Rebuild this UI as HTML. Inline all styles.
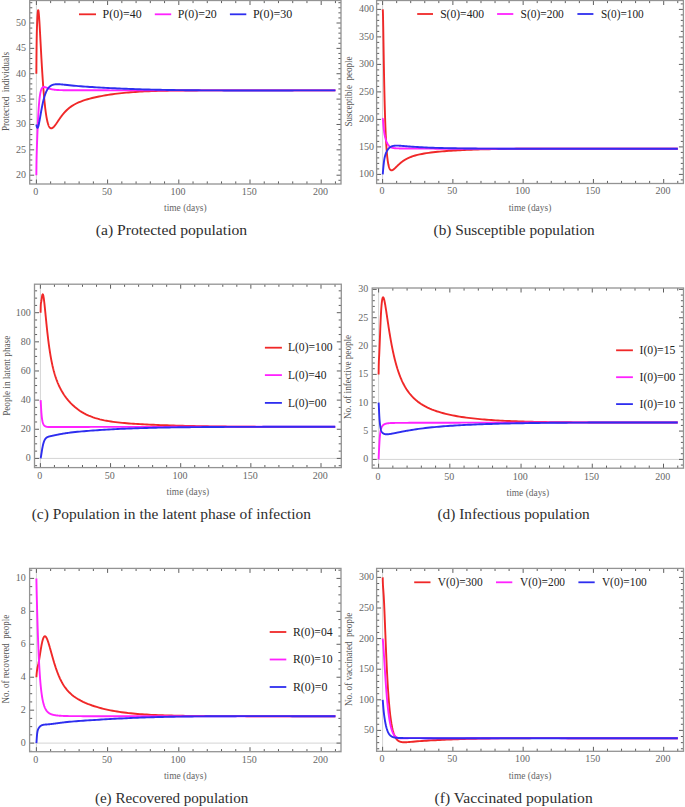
<!DOCTYPE html>
<html><head><meta charset="utf-8"><style>
html,body{margin:0;padding:0;background:#fff;}
svg{display:block;}
text{font-family:"Liberation Serif",serif;}
.tl{font-size:10px;fill:#666;}
.xl{font-size:10px;fill:#666;}
.yl{font-size:10.2px;fill:#555;}
.lg{font-size:12.6px;fill:#222;}
.cap{font-size:14.5px;fill:#2e2e2e;}
</style></head><body>
<svg width="685" height="807" viewBox="0 0 685 807">
<rect width="685" height="807" fill="#fff"/>
<clipPath id="ca"><rect x="29.7" y="0.5" width="311.3" height="183.5"/></clipPath>
<line x1="36.4" y1="0.5" x2="36.4" y2="184" stroke="#d4d4d4" stroke-width="1"/>
<path d="M36.4 184v-4.5 M36.4 0.5v4.5 M50.64 184v-2.6 M50.64 0.5v2.6 M64.88 184v-2.6 M64.88 0.5v2.6 M79.12 184v-2.6 M79.12 0.5v2.6 M93.36 184v-2.6 M93.36 0.5v2.6 M107.6 184v-4.5 M107.6 0.5v4.5 M121.84 184v-2.6 M121.84 0.5v2.6 M136.08 184v-2.6 M136.08 0.5v2.6 M150.32 184v-2.6 M150.32 0.5v2.6 M164.56 184v-2.6 M164.56 0.5v2.6 M178.8 184v-4.5 M178.8 0.5v4.5 M193.04 184v-2.6 M193.04 0.5v2.6 M207.28 184v-2.6 M207.28 0.5v2.6 M221.52 184v-2.6 M221.52 0.5v2.6 M235.76 184v-2.6 M235.76 0.5v2.6 M250 184v-4.5 M250 0.5v4.5 M264.24 184v-2.6 M264.24 0.5v2.6 M278.48 184v-2.6 M278.48 0.5v2.6 M292.72 184v-2.6 M292.72 0.5v2.6 M306.96 184v-2.6 M306.96 0.5v2.6 M321.2 184v-4.5 M321.2 0.5v4.5 M335.44 184v-2.6 M335.44 0.5v2.6 M29.7 180.27h2.6 M341 180.27h-2.6 M29.7 175.2h4.5 M341 175.2h-4.5 M29.7 170.13h2.6 M341 170.13h-2.6 M29.7 165.05h2.6 M341 165.05h-2.6 M29.7 159.98h2.6 M341 159.98h-2.6 M29.7 154.91h2.6 M341 154.91h-2.6 M29.7 149.83h4.5 M341 149.83h-4.5 M29.7 144.76h2.6 M341 144.76h-2.6 M29.7 139.69h2.6 M341 139.69h-2.6 M29.7 134.61h2.6 M341 134.61h-2.6 M29.7 129.54h2.6 M341 129.54h-2.6 M29.7 124.47h4.5 M341 124.47h-4.5 M29.7 119.39h2.6 M341 119.39h-2.6 M29.7 114.32h2.6 M341 114.32h-2.6 M29.7 109.25h2.6 M341 109.25h-2.6 M29.7 104.17h2.6 M341 104.17h-2.6 M29.7 99.1h4.5 M341 99.1h-4.5 M29.7 94.03h2.6 M341 94.03h-2.6 M29.7 88.95h2.6 M341 88.95h-2.6 M29.7 83.88h2.6 M341 83.88h-2.6 M29.7 78.81h2.6 M341 78.81h-2.6 M29.7 73.73h4.5 M341 73.73h-4.5 M29.7 68.66h2.6 M341 68.66h-2.6 M29.7 63.59h2.6 M341 63.59h-2.6 M29.7 58.51h2.6 M341 58.51h-2.6 M29.7 53.44h2.6 M341 53.44h-2.6 M29.7 48.37h4.5 M341 48.37h-4.5 M29.7 43.29h2.6 M341 43.29h-2.6 M29.7 38.22h2.6 M341 38.22h-2.6 M29.7 33.15h2.6 M341 33.15h-2.6 M29.7 28.07h2.6 M341 28.07h-2.6 M29.7 23h4.5 M341 23h-4.5 M29.7 17.93h2.6 M341 17.93h-2.6 M29.7 12.85h2.6 M341 12.85h-2.6 M29.7 7.78h2.6 M341 7.78h-2.6 M29.7 2.71h2.6 M341 2.71h-2.6" stroke="#5e5e5e" stroke-width="1" fill="none"/>
<g clip-path="url(#ca)" fill="none" stroke-width="1.9" stroke-linejoin="round" stroke-linecap="butt">
<path d="M36.35 73.70 L36.47 58.34 L36.59 46.66 L36.71 38.37 L36.83 32.48 L36.95 28.09 L37.07 24.60 L37.19 21.67 L37.30 19.13 L37.42 16.90 L37.54 14.97 L37.66 13.35 L37.78 12.05 L37.90 11.08 L38.02 10.44 L38.14 10.12 L38.26 10.12 L38.38 10.41 L38.50 10.97 L38.62 11.78 L38.74 12.81 L38.86 14.05 L38.98 15.46 L39.10 17.02 L39.21 18.72 L39.33 20.53 L39.45 22.43 L39.57 24.42 L39.69 26.48 L39.81 28.59 L39.93 30.74 L40.05 32.92 L40.17 35.13 L40.29 37.36 L40.41 39.59 L40.53 41.83 L40.65 44.06 L40.77 46.29 L40.89 48.51 L41.01 50.71 L41.12 52.89 L41.24 55.05 L41.36 57.19 L41.48 59.30 L41.60 61.39 L41.72 63.45 L41.84 65.47 L41.96 67.47 L42.08 69.43 L42.20 71.36 L42.32 73.25 L42.44 75.11 L42.56 76.93 L42.68 78.72 L42.80 80.47 L42.92 82.18 L43.03 83.86 L43.15 85.50 L43.27 87.10 L43.39 88.67 L43.51 90.19 L43.63 91.68 L43.75 93.14 L43.87 94.55 L43.99 95.93 L44.11 97.28 L44.23 98.58 L44.35 99.85 L44.47 101.09 L44.59 102.29 L44.71 103.45 L44.83 104.59 L44.94 105.68 L45.06 106.75 L45.18 107.78 L45.30 108.77 L45.42 109.74 L45.54 110.67 L45.66 111.57 L45.78 112.45 L45.90 113.29 L46.02 114.10 L46.14 114.88 L46.26 115.63 L46.38 116.36 L46.50 117.06 L46.62 117.73 L46.74 118.37 L46.85 118.99 L46.97 119.59 L47.09 120.16 L47.21 120.70 L47.33 121.22 L47.45 121.72 L47.57 122.19 L47.69 122.65 L47.81 123.08 L47.93 123.49 L48.05 123.88 L48.17 124.24 L48.29 124.59 L48.41 124.93 L48.53 125.24 L48.65 125.53 L48.76 125.81 L48.88 126.07 L49.00 126.31 L49.12 126.54 L49.24 126.75 L49.36 126.94 L49.48 127.12 L49.60 127.29 L49.72 127.44 L49.84 127.58 L49.96 127.71 L50.08 127.82 L50.20 127.92 L50.32 128.01 L50.44 128.09 L50.56 128.15 L50.67 128.21 L50.79 128.25 L50.91 128.28 L51.03 128.31 L51.15 128.32 L51.27 128.33 L51.39 128.33 L51.51 128.31 L51.63 128.29 L51.75 128.27 L51.87 128.23 L51.99 128.19 L52.11 128.14 L52.23 128.08 L52.35 128.02 L52.47 127.95 L52.58 127.87 L52.70 127.79 L52.82 127.70 L52.94 127.61 L53.06 127.51 L53.18 127.41 L53.30 127.31 L53.42 127.19 L53.54 127.08 L53.66 126.96 L53.78 126.83 L53.90 126.71 L54.02 126.58 L54.14 126.44 L54.26 126.30 L54.38 126.16 L54.49 126.02 L54.61 125.87 L54.73 125.72 L54.85 125.57 L54.97 125.42 L55.09 125.26 L55.21 125.10 L55.33 124.94 L55.45 124.78 L55.57 124.62 L55.69 124.45 L55.81 124.29 L55.93 124.12 L56.05 123.95 L56.17 123.78 L56.29 123.61 L56.40 123.44 L56.52 123.27 L56.64 123.09 L56.76 122.92 L56.88 122.74 L57.00 122.57 L57.12 122.39 L57.24 122.21 L57.36 122.04 L57.48 121.86 L57.60 121.68 L57.72 121.51 L57.84 121.33 L57.96 121.15 L58.08 120.98 L58.20 120.80 L58.31 120.62 L58.43 120.45 L58.55 120.27 L58.67 120.09 L58.79 119.92 L58.91 119.74 L59.03 119.57 L59.15 119.39 L59.27 119.22 L59.39 119.05 L59.51 118.88 L59.63 118.70 L59.75 118.53 L59.87 118.36 L59.99 118.19 L60.11 118.02 L60.22 117.85 L60.34 117.69 L60.46 117.52 L60.58 117.35 L60.70 117.19 L60.82 117.02 L60.94 116.86 L61.06 116.70 L61.18 116.54 L61.30 116.37 L61.42 116.21 L61.54 116.06 L61.66 115.90 L61.78 115.74 L61.90 115.58 L62.02 115.43 L62.13 115.28 L62.25 115.12 L62.37 114.97 L62.49 114.82 L62.61 114.67 L62.73 114.52 L62.85 114.37 L62.97 114.23 L63.09 114.08 L63.21 113.94 L63.33 113.79 L63.45 113.65 L63.57 113.51 L63.69 113.37 L63.81 113.23 L63.93 113.09 L64.04 112.95 L64.16 112.82 L64.28 112.68 L64.40 112.55 L64.52 112.41 L64.64 112.28 L64.76 112.15 L64.88 112.02 L67.15 109.74 L69.43 107.79 L71.70 106.14 L73.97 104.73 L76.25 103.51 L78.52 102.45 L80.79 101.52 L83.07 100.68 L85.34 99.93 L87.61 99.24 L89.89 98.61 L92.16 98.03 L94.43 97.49 L96.71 96.98 L98.98 96.50 L101.25 96.06 L103.53 95.64 L105.80 95.24 L108.07 94.87 L110.35 94.53 L112.62 94.20 L114.89 93.90 L117.17 93.61 L119.44 93.35 L121.71 93.10 L123.99 92.87 L126.26 92.65 L128.53 92.45 L130.81 92.27 L133.08 92.09 L135.35 91.94 L137.62 91.79 L139.90 91.66 L142.17 91.53 L144.44 91.42 L146.72 91.31 L148.99 91.22 L151.26 91.13 L153.54 91.05 L155.81 90.98 L158.08 90.91 L160.36 90.85 L162.63 90.80 L164.90 90.75 L167.18 90.71 L169.45 90.67 L171.72 90.63 L174.00 90.60 L176.27 90.57 L178.54 90.55 L180.82 90.53 L183.09 90.51 L185.36 90.49 L187.64 90.47 L189.91 90.46 L192.18 90.45 L194.46 90.44 L196.73 90.43 L199.00 90.42 L201.28 90.42 L203.55 90.41 L205.82 90.41 L208.10 90.41 L210.37 90.40 L212.64 90.40 L214.92 90.40 L217.19 90.40 L219.46 90.40 L221.74 90.40 L224.01 90.40 L226.28 90.40 L228.56 90.40 L230.83 90.40 L233.10 90.40 L235.38 90.40 L237.65 90.40 L239.92 90.41 L242.20 90.41 L244.47 90.41 L246.74 90.41 L249.02 90.41 L251.29 90.41 L253.56 90.41 L255.84 90.41 L258.11 90.41 L260.38 90.41 L262.66 90.41 L264.93 90.42 L267.20 90.42 L269.47 90.42 L271.75 90.42 L274.02 90.42 L276.29 90.42 L278.57 90.42 L280.84 90.42 L283.11 90.42 L285.39 90.42 L287.66 90.42 L289.93 90.42 L292.21 90.41 L294.48 90.41 L296.75 90.41 L299.03 90.41 L301.30 90.41 L303.57 90.41 L305.85 90.41 L308.12 90.41 L310.39 90.41 L312.67 90.41 L314.94 90.40 L317.21 90.40 L319.49 90.40 L321.76 90.40 L324.03 90.40 L326.31 90.40 L328.58 90.40 L330.85 90.39 L333.13 90.39 L335.40 90.39" stroke="#f02828"/>
<path d="M36.35 175.20 L36.47 165.02 L36.59 158.35 L36.71 153.46 L36.83 149.46 L36.95 145.91 L37.07 142.59 L37.19 139.41 L37.30 136.32 L37.42 133.31 L37.54 130.40 L37.66 127.59 L37.78 124.89 L37.90 122.30 L38.02 119.83 L38.14 117.49 L38.26 115.27 L38.38 113.17 L38.50 111.20 L38.62 109.34 L38.74 107.60 L38.86 105.98 L38.98 104.45 L39.10 103.04 L39.21 101.71 L39.33 100.48 L39.45 99.34 L39.57 98.28 L39.69 97.29 L39.81 96.38 L39.93 95.53 L40.05 94.75 L40.17 94.03 L40.29 93.36 L40.41 92.75 L40.53 92.18 L40.65 91.66 L40.77 91.18 L40.89 90.74 L41.01 90.34 L41.12 89.97 L41.24 89.64 L41.36 89.33 L41.48 89.05 L41.60 88.80 L41.72 88.57 L41.84 88.36 L41.96 88.18 L42.08 88.01 L42.20 87.86 L42.32 87.72 L42.44 87.61 L42.56 87.50 L42.68 87.41 L42.80 87.33 L42.92 87.26 L43.03 87.20 L43.15 87.15 L43.27 87.11 L43.39 87.08 L43.51 87.06 L43.63 87.04 L43.75 87.03 L43.87 87.02 L43.99 87.02 L44.11 87.03 L44.23 87.04 L44.35 87.05 L44.47 87.07 L44.59 87.09 L44.71 87.11 L44.83 87.14 L44.94 87.16 L45.06 87.19 L45.18 87.23 L45.30 87.26 L45.42 87.30 L45.54 87.34 L45.66 87.37 L45.78 87.41 L45.90 87.46 L46.02 87.50 L46.14 87.54 L46.26 87.58 L46.38 87.63 L46.50 87.67 L46.62 87.71 L46.74 87.76 L46.85 87.80 L46.97 87.85 L47.09 87.89 L47.21 87.93 L47.33 87.98 L47.45 88.02 L47.57 88.06 L47.69 88.11 L47.81 88.15 L47.93 88.19 L48.05 88.24 L48.17 88.28 L48.29 88.32 L48.41 88.36 L48.53 88.40 L48.65 88.44 L48.76 88.48 L48.88 88.52 L49.00 88.56 L49.12 88.59 L49.24 88.63 L49.36 88.67 L49.48 88.70 L49.60 88.74 L49.72 88.77 L49.84 88.81 L49.96 88.84 L50.08 88.87 L50.20 88.91 L50.32 88.94 L50.44 88.97 L50.56 89.00 L50.67 89.03 L50.79 89.06 L50.91 89.09 L51.03 89.12 L51.15 89.15 L51.27 89.17 L51.39 89.20 L51.51 89.23 L51.63 89.25 L51.75 89.28 L51.87 89.30 L51.99 89.33 L52.11 89.35 L52.23 89.37 L52.35 89.39 L52.47 89.42 L52.58 89.44 L52.70 89.46 L52.82 89.48 L52.94 89.50 L53.06 89.52 L53.18 89.54 L53.30 89.56 L53.42 89.58 L53.54 89.59 L53.66 89.61 L53.78 89.63 L53.90 89.64 L54.02 89.66 L54.14 89.68 L54.26 89.69 L54.38 89.71 L54.49 89.72 L54.61 89.74 L54.73 89.75 L54.85 89.76 L54.97 89.78 L55.09 89.79 L55.21 89.80 L55.33 89.82 L55.45 89.83 L55.57 89.84 L55.69 89.85 L55.81 89.86 L55.93 89.87 L56.05 89.88 L56.17 89.89 L56.29 89.90 L56.40 89.91 L56.52 89.92 L56.64 89.93 L56.76 89.94 L56.88 89.95 L57.00 89.96 L57.12 89.97 L57.24 89.98 L57.36 89.98 L57.48 89.99 L57.60 90.00 L57.72 90.01 L57.84 90.01 L57.96 90.02 L58.08 90.03 L58.20 90.03 L58.31 90.04 L58.43 90.04 L58.55 90.05 L58.67 90.06 L58.79 90.06 L58.91 90.07 L59.03 90.07 L59.15 90.08 L59.27 90.08 L59.39 90.09 L59.51 90.09 L59.63 90.10 L59.75 90.10 L59.87 90.11 L59.99 90.11 L60.11 90.11 L60.22 90.12 L60.34 90.12 L60.46 90.13 L60.58 90.13 L60.70 90.13 L60.82 90.14 L60.94 90.14 L61.06 90.14 L61.18 90.15 L61.30 90.15 L61.42 90.15 L61.54 90.15 L61.66 90.16 L61.78 90.16 L61.90 90.16 L62.02 90.16 L62.13 90.17 L62.25 90.17 L62.37 90.17 L62.49 90.17 L62.61 90.17 L62.73 90.18 L62.85 90.18 L62.97 90.18 L63.09 90.18 L63.21 90.18 L63.33 90.19 L63.45 90.19 L63.57 90.19 L63.69 90.19 L63.81 90.19 L63.93 90.19 L64.04 90.19 L64.16 90.19 L64.28 90.20 L64.40 90.20 L64.52 90.20 L64.64 90.20 L64.76 90.20 L64.88 90.20 L67.15 90.21 L69.43 90.22 L71.70 90.22 L73.97 90.22 L76.25 90.22 L78.52 90.22 L80.79 90.22 L83.07 90.23 L85.34 90.23 L87.61 90.24 L89.89 90.24 L92.16 90.25 L94.43 90.26 L96.71 90.27 L98.98 90.28 L101.25 90.29 L103.53 90.30 L105.80 90.31 L108.07 90.32 L110.35 90.33 L112.62 90.33 L114.89 90.34 L117.17 90.35 L119.44 90.35 L121.71 90.36 L123.99 90.37 L126.26 90.37 L128.53 90.38 L130.81 90.38 L133.08 90.38 L135.35 90.39 L137.62 90.39 L139.90 90.39 L142.17 90.40 L144.44 90.40 L146.72 90.40 L148.99 90.40 L151.26 90.40 L153.54 90.41 L155.81 90.41 L158.08 90.41 L160.36 90.41 L162.63 90.41 L164.90 90.41 L167.18 90.41 L169.45 90.41 L171.72 90.41 L174.00 90.41 L176.27 90.41 L178.54 90.41 L180.82 90.41 L183.09 90.41 L185.36 90.41 L187.64 90.41 L189.91 90.41 L192.18 90.41 L194.46 90.41 L196.73 90.40 L199.00 90.40 L201.28 90.40 L203.55 90.40 L205.82 90.40 L208.10 90.40 L210.37 90.40 L212.64 90.40 L214.92 90.40 L217.19 90.40 L219.46 90.40 L221.74 90.40 L224.01 90.40 L226.28 90.40 L228.56 90.40 L230.83 90.40 L233.10 90.40 L235.38 90.40 L237.65 90.40 L239.92 90.40 L242.20 90.40 L244.47 90.40 L246.74 90.40 L249.02 90.40 L251.29 90.40 L253.56 90.40 L255.84 90.40 L258.11 90.40 L260.38 90.40 L262.66 90.40 L264.93 90.40 L267.20 90.40 L269.47 90.40 L271.75 90.40 L274.02 90.40 L276.29 90.40 L278.57 90.40 L280.84 90.40 L283.11 90.40 L285.39 90.40 L287.66 90.40 L289.93 90.40 L292.21 90.40 L294.48 90.40 L296.75 90.40 L299.03 90.40 L301.30 90.40 L303.57 90.40 L305.85 90.40 L308.12 90.40 L310.39 90.40 L312.67 90.40 L314.94 90.40 L317.21 90.40 L319.49 90.40 L321.76 90.40 L324.03 90.40 L326.31 90.40 L328.58 90.40 L330.85 90.40 L333.13 90.40 L335.40 90.40" stroke="#ff22ff"/>
<path d="M36.35 124.50 L36.47 125.17 L36.59 125.77 L36.71 126.30 L36.83 126.75 L36.95 127.12 L37.07 127.42 L37.19 127.63 L37.30 127.77 L37.42 127.84 L37.54 127.84 L37.66 127.77 L37.78 127.63 L37.90 127.44 L38.02 127.19 L38.14 126.89 L38.26 126.54 L38.38 126.14 L38.50 125.71 L38.62 125.23 L38.74 124.73 L38.86 124.19 L38.98 123.63 L39.10 123.05 L39.21 122.44 L39.33 121.81 L39.45 121.17 L39.57 120.52 L39.69 119.85 L39.81 119.18 L39.93 118.49 L40.05 117.81 L40.17 117.12 L40.29 116.42 L40.41 115.73 L40.53 115.04 L40.65 114.35 L40.77 113.66 L40.89 112.97 L41.01 112.29 L41.12 111.62 L41.24 110.95 L41.36 110.29 L41.48 109.64 L41.60 109.00 L41.72 108.36 L41.84 107.73 L41.96 107.12 L42.08 106.51 L42.20 105.91 L42.32 105.32 L42.44 104.74 L42.56 104.18 L42.68 103.62 L42.80 103.08 L42.92 102.54 L43.03 102.02 L43.15 101.51 L43.27 101.00 L43.39 100.51 L43.51 100.03 L43.63 99.56 L43.75 99.10 L43.87 98.66 L43.99 98.22 L44.11 97.79 L44.23 97.37 L44.35 96.96 L44.47 96.57 L44.59 96.18 L44.71 95.80 L44.83 95.43 L44.94 95.07 L45.06 94.72 L45.18 94.38 L45.30 94.05 L45.42 93.73 L45.54 93.41 L45.66 93.11 L45.78 92.81 L45.90 92.52 L46.02 92.24 L46.14 91.96 L46.26 91.70 L46.38 91.44 L46.50 91.19 L46.62 90.94 L46.74 90.71 L46.85 90.48 L46.97 90.25 L47.09 90.03 L47.21 89.82 L47.33 89.62 L47.45 89.42 L47.57 89.23 L47.69 89.04 L47.81 88.86 L47.93 88.68 L48.05 88.51 L48.17 88.34 L48.29 88.18 L48.41 88.03 L48.53 87.88 L48.65 87.73 L48.76 87.59 L48.88 87.45 L49.00 87.32 L49.12 87.19 L49.24 87.07 L49.36 86.95 L49.48 86.83 L49.60 86.72 L49.72 86.61 L49.84 86.51 L49.96 86.41 L50.08 86.31 L50.20 86.21 L50.32 86.12 L50.44 86.03 L50.56 85.95 L50.67 85.87 L50.79 85.79 L50.91 85.71 L51.03 85.64 L51.15 85.57 L51.27 85.50 L51.39 85.43 L51.51 85.37 L51.63 85.31 L51.75 85.25 L51.87 85.19 L51.99 85.14 L52.11 85.09 L52.23 85.04 L52.35 84.99 L52.47 84.94 L52.58 84.90 L52.70 84.86 L52.82 84.82 L52.94 84.78 L53.06 84.74 L53.18 84.71 L53.30 84.67 L53.42 84.64 L53.54 84.61 L53.66 84.58 L53.78 84.55 L53.90 84.53 L54.02 84.50 L54.14 84.48 L54.26 84.45 L54.38 84.43 L54.49 84.41 L54.61 84.39 L54.73 84.38 L54.85 84.36 L54.97 84.34 L55.09 84.33 L55.21 84.32 L55.33 84.30 L55.45 84.29 L55.57 84.28 L55.69 84.27 L55.81 84.26 L55.93 84.25 L56.05 84.25 L56.17 84.24 L56.29 84.23 L56.40 84.23 L56.52 84.22 L56.64 84.22 L56.76 84.22 L56.88 84.21 L57.00 84.21 L57.12 84.21 L57.24 84.21 L57.36 84.21 L57.48 84.21 L57.60 84.21 L57.72 84.21 L57.84 84.21 L57.96 84.21 L58.08 84.22 L58.20 84.22 L58.31 84.22 L58.43 84.23 L58.55 84.23 L58.67 84.23 L58.79 84.24 L58.91 84.25 L59.03 84.25 L59.15 84.26 L59.27 84.26 L59.39 84.27 L59.51 84.28 L59.63 84.28 L59.75 84.29 L59.87 84.30 L59.99 84.31 L60.11 84.32 L60.22 84.32 L60.34 84.33 L60.46 84.34 L60.58 84.35 L60.70 84.36 L60.82 84.37 L60.94 84.38 L61.06 84.39 L61.18 84.40 L61.30 84.41 L61.42 84.42 L61.54 84.43 L61.66 84.44 L61.78 84.45 L61.90 84.46 L62.02 84.47 L62.13 84.49 L62.25 84.50 L62.37 84.51 L62.49 84.52 L62.61 84.53 L62.73 84.54 L62.85 84.55 L62.97 84.57 L63.09 84.58 L63.21 84.59 L63.33 84.60 L63.45 84.61 L63.57 84.63 L63.69 84.64 L63.81 84.65 L63.93 84.66 L64.04 84.68 L64.16 84.69 L64.28 84.70 L64.40 84.71 L64.52 84.73 L64.64 84.74 L64.76 84.75 L64.88 84.76 L67.15 85.01 L69.43 85.25 L71.70 85.48 L73.97 85.69 L76.25 85.90 L78.52 86.09 L80.79 86.28 L83.07 86.45 L85.34 86.62 L87.61 86.78 L89.89 86.93 L92.16 87.07 L94.43 87.22 L96.71 87.36 L98.98 87.49 L101.25 87.62 L103.53 87.75 L105.80 87.87 L108.07 87.99 L110.35 88.10 L112.62 88.22 L114.89 88.32 L117.17 88.43 L119.44 88.53 L121.71 88.63 L123.99 88.73 L126.26 88.82 L128.53 88.91 L130.81 88.99 L133.08 89.07 L135.35 89.15 L137.62 89.23 L139.90 89.30 L142.17 89.37 L144.44 89.44 L146.72 89.50 L148.99 89.56 L151.26 89.62 L153.54 89.67 L155.81 89.73 L158.08 89.77 L160.36 89.82 L162.63 89.87 L164.90 89.91 L167.18 89.95 L169.45 89.99 L171.72 90.02 L174.00 90.06 L176.27 90.09 L178.54 90.12 L180.82 90.15 L183.09 90.17 L185.36 90.20 L187.64 90.22 L189.91 90.24 L192.18 90.26 L194.46 90.28 L196.73 90.30 L199.00 90.32 L201.28 90.33 L203.55 90.35 L205.82 90.36 L208.10 90.37 L210.37 90.38 L212.64 90.39 L214.92 90.40 L217.19 90.41 L219.46 90.42 L221.74 90.42 L224.01 90.43 L226.28 90.44 L228.56 90.44 L230.83 90.45 L233.10 90.45 L235.38 90.45 L237.65 90.45 L239.92 90.46 L242.20 90.46 L244.47 90.46 L246.74 90.46 L249.02 90.46 L251.29 90.46 L253.56 90.46 L255.84 90.46 L258.11 90.46 L260.38 90.46 L262.66 90.46 L264.93 90.46 L267.20 90.45 L269.47 90.45 L271.75 90.45 L274.02 90.45 L276.29 90.45 L278.57 90.44 L280.84 90.44 L283.11 90.44 L285.39 90.43 L287.66 90.43 L289.93 90.43 L292.21 90.43 L294.48 90.42 L296.75 90.42 L299.03 90.42 L301.30 90.41 L303.57 90.41 L305.85 90.41 L308.12 90.40 L310.39 90.40 L312.67 90.40 L314.94 90.39 L317.21 90.39 L319.49 90.39 L321.76 90.38 L324.03 90.38 L326.31 90.38 L328.58 90.37 L330.85 90.37 L333.13 90.37 L335.40 90.36" stroke="#2e2eef"/>
</g>
<rect x="29.7" y="0.5" width="311.3" height="183.5" fill="none" stroke="#939393" stroke-width="1.3"/>
<text x="35.7" y="194.8" text-anchor="middle" class="tl">0</text>
<text x="106.9" y="194.8" text-anchor="middle" class="tl">50</text>
<text x="178.1" y="194.8" text-anchor="middle" class="tl">100</text>
<text x="249.3" y="194.8" text-anchor="middle" class="tl">150</text>
<text x="320.5" y="194.8" text-anchor="middle" class="tl">200</text>
<text x="26.05" y="178.2" text-anchor="end" class="tl">20</text>
<text x="26.05" y="152.83" text-anchor="end" class="tl">25</text>
<text x="26.05" y="127.47" text-anchor="end" class="tl">30</text>
<text x="26.05" y="102.1" text-anchor="end" class="tl">35</text>
<text x="26.05" y="76.73" text-anchor="end" class="tl">40</text>
<text x="26.05" y="51.37" text-anchor="end" class="tl">45</text>
<text x="26.05" y="26" text-anchor="end" class="tl">50</text>
<text x="185.35" y="211.3" text-anchor="middle" class="xl" textLength="42.6" lengthAdjust="spacingAndGlyphs">time (days)</text>
<text transform="translate(8.8 91.5) rotate(-90)" text-anchor="middle" class="yl" textLength="79" lengthAdjust="spacingAndGlyphs">Protected&#160;&#160;individuals</text>
<line x1="79" y1="14.3" x2="96" y2="14.3" stroke="#f02828" stroke-width="1.8"/>
<text x="102.6" y="17.9" class="lg" textLength="39" lengthAdjust="spacingAndGlyphs">P(0)=40</text>
<line x1="154.8" y1="14.3" x2="171.2" y2="14.3" stroke="#ff22ff" stroke-width="1.8"/>
<text x="177.8" y="17.9" class="lg" textLength="39" lengthAdjust="spacingAndGlyphs">P(0)=20</text>
<line x1="229.9" y1="14.3" x2="246.3" y2="14.3" stroke="#2e2eef" stroke-width="1.8"/>
<text x="252.9" y="17.9" class="lg" textLength="39.4" lengthAdjust="spacingAndGlyphs">P(0)=30</text>
<text x="95.8" y="234.7" class="cap" textLength="151.4" lengthAdjust="spacingAndGlyphs">(a) Protected population</text>
<clipPath id="cb"><rect x="376.6" y="0.5" width="306.8" height="183"/></clipPath>
<line x1="382.6" y1="0.5" x2="382.6" y2="183.5" stroke="#d4d4d4" stroke-width="1"/>
<path d="M382.6 183.5v-4.5 M382.6 0.5v4.5 M396.66 183.5v-2.6 M396.66 0.5v2.6 M410.71 183.5v-2.6 M410.71 0.5v2.6 M424.77 183.5v-2.6 M424.77 0.5v2.6 M438.82 183.5v-2.6 M438.82 0.5v2.6 M452.88 183.5v-4.5 M452.88 0.5v4.5 M466.93 183.5v-2.6 M466.93 0.5v2.6 M480.99 183.5v-2.6 M480.99 0.5v2.6 M495.04 183.5v-2.6 M495.04 0.5v2.6 M509.1 183.5v-2.6 M509.1 0.5v2.6 M523.15 183.5v-4.5 M523.15 0.5v4.5 M537.21 183.5v-2.6 M537.21 0.5v2.6 M551.26 183.5v-2.6 M551.26 0.5v2.6 M565.32 183.5v-2.6 M565.32 0.5v2.6 M579.37 183.5v-2.6 M579.37 0.5v2.6 M593.42 183.5v-4.5 M593.42 0.5v4.5 M607.48 183.5v-2.6 M607.48 0.5v2.6 M621.54 183.5v-2.6 M621.54 0.5v2.6 M635.59 183.5v-2.6 M635.59 0.5v2.6 M649.64 183.5v-2.6 M649.64 0.5v2.6 M663.7 183.5v-4.5 M663.7 0.5v4.5 M677.76 183.5v-2.6 M677.76 0.5v2.6 M376.6 179.9h2.6 M683.4 179.9h-2.6 M376.6 174.4h4.5 M683.4 174.4h-4.5 M376.6 168.9h2.6 M683.4 168.9h-2.6 M376.6 163.4h2.6 M683.4 163.4h-2.6 M376.6 157.9h2.6 M683.4 157.9h-2.6 M376.6 152.4h2.6 M683.4 152.4h-2.6 M376.6 146.9h4.5 M683.4 146.9h-4.5 M376.6 141.4h2.6 M683.4 141.4h-2.6 M376.6 135.9h2.6 M683.4 135.9h-2.6 M376.6 130.4h2.6 M683.4 130.4h-2.6 M376.6 124.9h2.6 M683.4 124.9h-2.6 M376.6 119.4h4.5 M683.4 119.4h-4.5 M376.6 113.9h2.6 M683.4 113.9h-2.6 M376.6 108.4h2.6 M683.4 108.4h-2.6 M376.6 102.9h2.6 M683.4 102.9h-2.6 M376.6 97.4h2.6 M683.4 97.4h-2.6 M376.6 91.9h4.5 M683.4 91.9h-4.5 M376.6 86.4h2.6 M683.4 86.4h-2.6 M376.6 80.9h2.6 M683.4 80.9h-2.6 M376.6 75.4h2.6 M683.4 75.4h-2.6 M376.6 69.9h2.6 M683.4 69.9h-2.6 M376.6 64.4h4.5 M683.4 64.4h-4.5 M376.6 58.9h2.6 M683.4 58.9h-2.6 M376.6 53.4h2.6 M683.4 53.4h-2.6 M376.6 47.9h2.6 M683.4 47.9h-2.6 M376.6 42.4h2.6 M683.4 42.4h-2.6 M376.6 36.9h4.5 M683.4 36.9h-4.5 M376.6 31.4h2.6 M683.4 31.4h-2.6 M376.6 25.9h2.6 M683.4 25.9h-2.6 M376.6 20.4h2.6 M683.4 20.4h-2.6 M376.6 14.9h2.6 M683.4 14.9h-2.6 M376.6 9.4h4.5 M683.4 9.4h-4.5 M376.6 3.9h2.6 M683.4 3.9h-2.6" stroke="#5e5e5e" stroke-width="1" fill="none"/>
<g clip-path="url(#cb)" fill="none" stroke-width="1.9" stroke-linejoin="round" stroke-linecap="butt">
<path d="M382.75 9.40 L382.87 10.86 L382.98 14.58 L383.10 19.89 L383.22 26.21 L383.33 33.10 L383.45 40.25 L383.57 47.45 L383.69 54.55 L383.80 61.44 L383.92 68.07 L384.04 74.41 L384.15 80.44 L384.27 86.14 L384.39 91.53 L384.50 96.61 L384.62 101.38 L384.74 105.88 L384.86 110.10 L384.97 114.07 L385.09 117.79 L385.21 121.28 L385.32 124.56 L385.44 127.63 L385.56 130.52 L385.67 133.22 L385.79 135.76 L385.91 138.14 L386.03 140.37 L386.14 142.46 L386.26 144.43 L386.38 146.27 L386.49 147.99 L386.61 149.61 L386.73 151.13 L386.84 152.55 L386.96 153.88 L387.08 155.13 L387.20 156.30 L387.31 157.39 L387.43 158.42 L387.55 159.38 L387.66 160.27 L387.78 161.11 L387.90 161.89 L388.01 162.62 L388.13 163.30 L388.25 163.93 L388.37 164.52 L388.48 165.07 L388.60 165.58 L388.72 166.05 L388.83 166.49 L388.95 166.89 L389.07 167.27 L389.18 167.61 L389.30 167.93 L389.42 168.22 L389.54 168.49 L389.65 168.73 L389.77 168.95 L389.89 169.15 L390.00 169.34 L390.12 169.50 L390.24 169.64 L390.35 169.77 L390.47 169.89 L390.59 169.98 L390.71 170.07 L390.82 170.14 L390.94 170.20 L391.06 170.25 L391.17 170.28 L391.29 170.31 L391.41 170.33 L391.52 170.33 L391.64 170.33 L391.76 170.32 L391.88 170.30 L391.99 170.28 L392.11 170.25 L392.23 170.21 L392.34 170.17 L392.46 170.12 L392.58 170.06 L392.69 170.00 L392.81 169.94 L392.93 169.87 L393.04 169.80 L393.16 169.72 L393.28 169.64 L393.40 169.55 L393.51 169.47 L393.63 169.38 L393.75 169.29 L393.86 169.19 L393.98 169.09 L394.10 168.99 L394.21 168.89 L394.33 168.79 L394.45 168.69 L394.57 168.58 L394.68 168.47 L394.80 168.36 L394.92 168.25 L395.03 168.14 L395.15 168.03 L395.27 167.92 L395.38 167.80 L395.50 167.69 L395.62 167.58 L395.74 167.46 L395.85 167.35 L395.97 167.23 L396.09 167.11 L396.20 167.00 L396.32 166.88 L396.44 166.77 L396.55 166.65 L396.67 166.53 L396.79 166.42 L396.91 166.30 L397.02 166.19 L397.14 166.07 L397.26 165.96 L397.37 165.84 L397.49 165.73 L397.61 165.61 L397.72 165.50 L397.84 165.39 L397.96 165.27 L398.08 165.16 L398.19 165.05 L398.31 164.94 L398.43 164.83 L398.54 164.72 L398.66 164.61 L398.78 164.50 L398.89 164.39 L399.01 164.29 L399.13 164.18 L399.25 164.07 L399.36 163.97 L399.48 163.86 L399.60 163.76 L399.71 163.66 L399.83 163.56 L399.95 163.45 L400.06 163.35 L400.18 163.25 L400.30 163.15 L400.42 163.05 L400.53 162.96 L400.65 162.86 L400.77 162.76 L400.88 162.67 L401.00 162.57 L401.12 162.48 L401.23 162.39 L401.35 162.29 L401.47 162.20 L401.58 162.11 L401.70 162.02 L401.82 161.93 L401.94 161.84 L402.05 161.75 L402.17 161.67 L402.29 161.58 L402.40 161.49 L402.52 161.41 L402.64 161.32 L402.75 161.24 L402.87 161.16 L402.99 161.08 L403.11 160.99 L403.22 160.91 L403.34 160.83 L403.46 160.75 L403.57 160.68 L403.69 160.60 L403.81 160.52 L403.92 160.44 L404.04 160.37 L404.16 160.29 L404.28 160.22 L404.39 160.14 L404.51 160.07 L404.63 160.00 L404.74 159.93 L404.86 159.86 L404.98 159.79 L405.09 159.72 L405.21 159.65 L405.33 159.58 L405.45 159.51 L405.56 159.44 L405.68 159.38 L405.80 159.31 L405.91 159.24 L406.03 159.18 L406.15 159.12 L406.26 159.05 L406.38 158.99 L406.50 158.93 L406.62 158.86 L406.73 158.80 L406.85 158.74 L406.97 158.68 L407.08 158.62 L407.20 158.56 L407.32 158.50 L407.43 158.44 L407.55 158.39 L407.67 158.33 L407.79 158.27 L407.90 158.22 L408.02 158.16 L408.14 158.11 L408.25 158.05 L408.37 158.00 L408.49 157.94 L408.60 157.89 L408.72 157.84 L408.84 157.78 L408.96 157.73 L409.07 157.68 L409.19 157.63 L409.31 157.58 L409.42 157.53 L409.54 157.48 L409.66 157.43 L409.77 157.38 L409.89 157.33 L410.01 157.29 L410.13 157.24 L410.24 157.19 L410.36 157.14 L410.48 157.10 L410.59 157.05 L410.71 157.01 L412.95 156.20 L415.20 155.52 L417.44 154.92 L419.69 154.40 L421.93 153.95 L424.18 153.54 L426.42 153.18 L428.67 152.85 L430.91 152.55 L433.15 152.28 L435.40 152.03 L437.64 151.79 L439.89 151.58 L442.13 151.38 L444.38 151.20 L446.62 151.02 L448.87 150.86 L451.11 150.71 L453.35 150.57 L455.60 150.44 L457.84 150.31 L460.09 150.20 L462.33 150.09 L464.58 149.98 L466.82 149.89 L469.07 149.80 L471.31 149.71 L473.55 149.63 L475.80 149.56 L478.04 149.49 L480.29 149.42 L482.53 149.36 L484.78 149.30 L487.02 149.25 L489.27 149.20 L491.51 149.15 L493.75 149.11 L496.00 149.07 L498.24 149.03 L500.49 149.00 L502.73 148.97 L504.98 148.93 L507.22 148.91 L509.47 148.88 L511.71 148.86 L513.95 148.83 L516.20 148.81 L518.44 148.80 L520.69 148.78 L522.93 148.76 L525.18 148.75 L527.42 148.73 L529.67 148.72 L531.91 148.71 L534.15 148.70 L536.40 148.69 L538.64 148.68 L540.89 148.68 L543.13 148.67 L545.38 148.67 L547.62 148.66 L549.87 148.66 L552.11 148.65 L554.36 148.65 L556.60 148.65 L558.84 148.64 L561.09 148.64 L563.33 148.64 L565.58 148.64 L567.82 148.64 L570.07 148.64 L572.31 148.64 L574.56 148.64 L576.80 148.64 L579.04 148.64 L581.29 148.64 L583.53 148.64 L585.78 148.65 L588.02 148.65 L590.27 148.65 L592.51 148.65 L594.76 148.65 L597.00 148.65 L599.24 148.66 L601.49 148.66 L603.73 148.66 L605.98 148.66 L608.22 148.66 L610.47 148.67 L612.71 148.67 L614.96 148.67 L617.20 148.67 L619.44 148.68 L621.69 148.68 L623.93 148.68 L626.18 148.68 L628.42 148.69 L630.67 148.69 L632.91 148.69 L635.16 148.69 L637.40 148.69 L639.64 148.70 L641.89 148.70 L644.13 148.70 L646.38 148.70 L648.62 148.70 L650.87 148.71 L653.11 148.71 L655.36 148.71 L657.60 148.71 L659.84 148.71 L662.09 148.72 L664.33 148.72 L666.58 148.72 L668.82 148.72 L671.07 148.72 L673.31 148.72 L675.56 148.73 L677.80 148.73" stroke="#f02828"/>
<path d="M382.75 119.40 L382.87 118.81 L382.98 119.74 L383.10 121.23 L383.22 122.85 L383.33 124.41 L383.45 125.85 L383.57 127.14 L383.69 128.30 L383.80 129.35 L383.92 130.31 L384.04 131.18 L384.15 131.98 L384.27 132.73 L384.39 133.43 L384.50 134.09 L384.62 134.71 L384.74 135.31 L384.86 135.87 L384.97 136.41 L385.09 136.92 L385.21 137.41 L385.32 137.88 L385.44 138.33 L385.56 138.76 L385.67 139.18 L385.79 139.57 L385.91 139.95 L386.03 140.32 L386.14 140.67 L386.26 141.01 L386.38 141.33 L386.49 141.64 L386.61 141.94 L386.73 142.22 L386.84 142.50 L386.96 142.76 L387.08 143.01 L387.20 143.25 L387.31 143.48 L387.43 143.70 L387.55 143.91 L387.66 144.11 L387.78 144.30 L387.90 144.49 L388.01 144.67 L388.13 144.84 L388.25 145.00 L388.37 145.15 L388.48 145.30 L388.60 145.44 L388.72 145.58 L388.83 145.71 L388.95 145.84 L389.07 145.95 L389.18 146.07 L389.30 146.18 L389.42 146.28 L389.54 146.38 L389.65 146.48 L389.77 146.57 L389.89 146.65 L390.00 146.74 L390.12 146.81 L390.24 146.89 L390.35 146.96 L390.47 147.03 L390.59 147.10 L390.71 147.16 L390.82 147.22 L390.94 147.28 L391.06 147.33 L391.17 147.39 L391.29 147.44 L391.41 147.49 L391.52 147.53 L391.64 147.57 L391.76 147.62 L391.88 147.66 L391.99 147.69 L392.11 147.73 L392.23 147.77 L392.34 147.80 L392.46 147.83 L392.58 147.86 L392.69 147.89 L392.81 147.92 L392.93 147.94 L393.04 147.97 L393.16 147.99 L393.28 148.01 L393.40 148.03 L393.51 148.06 L393.63 148.08 L393.75 148.09 L393.86 148.11 L393.98 148.13 L394.10 148.14 L394.21 148.16 L394.33 148.18 L394.45 148.19 L394.57 148.20 L394.68 148.22 L394.80 148.23 L394.92 148.24 L395.03 148.25 L395.15 148.26 L395.27 148.27 L395.38 148.28 L395.50 148.29 L395.62 148.30 L395.74 148.31 L395.85 148.31 L395.97 148.32 L396.09 148.33 L396.20 148.33 L396.32 148.34 L396.44 148.35 L396.55 148.35 L396.67 148.36 L396.79 148.36 L396.91 148.37 L397.02 148.37 L397.14 148.38 L397.26 148.38 L397.37 148.38 L397.49 148.39 L397.61 148.39 L397.72 148.40 L397.84 148.40 L397.96 148.40 L398.08 148.41 L398.19 148.41 L398.31 148.41 L398.43 148.41 L398.54 148.42 L398.66 148.42 L398.78 148.42 L398.89 148.42 L399.01 148.42 L399.13 148.43 L399.25 148.43 L399.36 148.43 L399.48 148.43 L399.60 148.43 L399.71 148.43 L399.83 148.44 L399.95 148.44 L400.06 148.44 L400.18 148.44 L400.30 148.44 L400.42 148.44 L400.53 148.44 L400.65 148.44 L400.77 148.45 L400.88 148.45 L401.00 148.45 L401.12 148.45 L401.23 148.45 L401.35 148.45 L401.47 148.45 L401.58 148.45 L401.70 148.45 L401.82 148.45 L401.94 148.45 L402.05 148.45 L402.17 148.46 L402.29 148.46 L402.40 148.46 L402.52 148.46 L402.64 148.46 L402.75 148.46 L402.87 148.46 L402.99 148.46 L403.11 148.46 L403.22 148.46 L403.34 148.46 L403.46 148.46 L403.57 148.46 L403.69 148.46 L403.81 148.47 L403.92 148.47 L404.04 148.47 L404.16 148.47 L404.28 148.47 L404.39 148.47 L404.51 148.47 L404.63 148.47 L404.74 148.47 L404.86 148.47 L404.98 148.47 L405.09 148.47 L405.21 148.47 L405.33 148.47 L405.45 148.48 L405.56 148.48 L405.68 148.48 L405.80 148.48 L405.91 148.48 L406.03 148.48 L406.15 148.48 L406.26 148.48 L406.38 148.48 L406.50 148.48 L406.62 148.48 L406.73 148.48 L406.85 148.49 L406.97 148.49 L407.08 148.49 L407.20 148.49 L407.32 148.49 L407.43 148.49 L407.55 148.49 L407.67 148.49 L407.79 148.49 L407.90 148.49 L408.02 148.49 L408.14 148.49 L408.25 148.50 L408.37 148.50 L408.49 148.50 L408.60 148.50 L408.72 148.50 L408.84 148.50 L408.96 148.50 L409.07 148.50 L409.19 148.50 L409.31 148.50 L409.42 148.50 L409.54 148.51 L409.66 148.51 L409.77 148.51 L409.89 148.51 L410.01 148.51 L410.13 148.51 L410.24 148.51 L410.36 148.51 L410.48 148.51 L410.59 148.51 L410.71 148.52 L412.95 148.54 L415.20 148.56 L417.44 148.57 L419.69 148.59 L421.93 148.61 L424.18 148.63 L426.42 148.64 L428.67 148.65 L430.91 148.66 L433.15 148.67 L435.40 148.68 L437.64 148.68 L439.89 148.69 L442.13 148.69 L444.38 148.70 L446.62 148.70 L448.87 148.70 L451.11 148.70 L453.35 148.70 L455.60 148.70 L457.84 148.70 L460.09 148.70 L462.33 148.70 L464.58 148.70 L466.82 148.70 L469.07 148.70 L471.31 148.70 L473.55 148.70 L475.80 148.70 L478.04 148.70 L480.29 148.70 L482.53 148.70 L484.78 148.70 L487.02 148.70 L489.27 148.70 L491.51 148.70 L493.75 148.70 L496.00 148.70 L498.24 148.70 L500.49 148.70 L502.73 148.70 L504.98 148.70 L507.22 148.70 L509.47 148.70 L511.71 148.70 L513.95 148.70 L516.20 148.70 L518.44 148.70 L520.69 148.70 L522.93 148.70 L525.18 148.70 L527.42 148.70 L529.67 148.70 L531.91 148.70 L534.15 148.70 L536.40 148.70 L538.64 148.70 L540.89 148.70 L543.13 148.70 L545.38 148.70 L547.62 148.70 L549.87 148.70 L552.11 148.70 L554.36 148.70 L556.60 148.70 L558.84 148.70 L561.09 148.70 L563.33 148.70 L565.58 148.70 L567.82 148.70 L570.07 148.70 L572.31 148.70 L574.56 148.70 L576.80 148.70 L579.04 148.70 L581.29 148.70 L583.53 148.70 L585.78 148.70 L588.02 148.70 L590.27 148.70 L592.51 148.70 L594.76 148.70 L597.00 148.70 L599.24 148.70 L601.49 148.70 L603.73 148.70 L605.98 148.70 L608.22 148.70 L610.47 148.70 L612.71 148.70 L614.96 148.70 L617.20 148.70 L619.44 148.70 L621.69 148.70 L623.93 148.70 L626.18 148.70 L628.42 148.70 L630.67 148.70 L632.91 148.70 L635.16 148.70 L637.40 148.70 L639.64 148.70 L641.89 148.70 L644.13 148.70 L646.38 148.70 L648.62 148.70 L650.87 148.70 L653.11 148.70 L655.36 148.70 L657.60 148.70 L659.84 148.70 L662.09 148.70 L664.33 148.70 L666.58 148.70 L668.82 148.70 L671.07 148.70 L673.31 148.70 L675.56 148.70 L677.80 148.70" stroke="#ff22ff"/>
<path d="M382.75 174.40 L382.87 173.04 L382.98 171.67 L383.10 170.29 L383.22 168.92 L383.33 167.60 L383.45 166.34 L383.57 165.16 L383.69 164.06 L383.80 163.04 L383.92 162.10 L384.04 161.24 L384.15 160.44 L384.27 159.71 L384.39 159.03 L384.50 158.40 L384.62 157.81 L384.74 157.26 L384.86 156.75 L384.97 156.27 L385.09 155.82 L385.21 155.40 L385.32 154.99 L385.44 154.61 L385.56 154.25 L385.67 153.90 L385.79 153.57 L385.91 153.25 L386.03 152.95 L386.14 152.66 L386.26 152.38 L386.38 152.12 L386.49 151.86 L386.61 151.61 L386.73 151.38 L386.84 151.15 L386.96 150.93 L387.08 150.72 L387.20 150.51 L387.31 150.32 L387.43 150.13 L387.55 149.94 L387.66 149.77 L387.78 149.59 L387.90 149.43 L388.01 149.27 L388.13 149.12 L388.25 148.97 L388.37 148.83 L388.48 148.69 L388.60 148.56 L388.72 148.43 L388.83 148.31 L388.95 148.19 L389.07 148.07 L389.18 147.96 L389.30 147.86 L389.42 147.75 L389.54 147.66 L389.65 147.56 L389.77 147.47 L389.89 147.38 L390.00 147.30 L390.12 147.22 L390.24 147.14 L390.35 147.06 L390.47 146.99 L390.59 146.92 L390.71 146.85 L390.82 146.79 L390.94 146.73 L391.06 146.67 L391.17 146.61 L391.29 146.55 L391.41 146.50 L391.52 146.45 L391.64 146.40 L391.76 146.36 L391.88 146.31 L391.99 146.27 L392.11 146.23 L392.23 146.19 L392.34 146.16 L392.46 146.12 L392.58 146.09 L392.69 146.06 L392.81 146.03 L392.93 146.00 L393.04 145.97 L393.16 145.94 L393.28 145.92 L393.40 145.89 L393.51 145.87 L393.63 145.85 L393.75 145.83 L393.86 145.81 L393.98 145.80 L394.10 145.78 L394.21 145.76 L394.33 145.75 L394.45 145.73 L394.57 145.72 L394.68 145.71 L394.80 145.70 L394.92 145.69 L395.03 145.68 L395.15 145.67 L395.27 145.66 L395.38 145.66 L395.50 145.65 L395.62 145.64 L395.74 145.64 L395.85 145.63 L395.97 145.63 L396.09 145.63 L396.20 145.62 L396.32 145.62 L396.44 145.62 L396.55 145.62 L396.67 145.62 L396.79 145.62 L396.91 145.62 L397.02 145.62 L397.14 145.62 L397.26 145.62 L397.37 145.62 L397.49 145.62 L397.61 145.63 L397.72 145.63 L397.84 145.63 L397.96 145.64 L398.08 145.64 L398.19 145.64 L398.31 145.65 L398.43 145.65 L398.54 145.66 L398.66 145.66 L398.78 145.67 L398.89 145.67 L399.01 145.68 L399.13 145.69 L399.25 145.69 L399.36 145.70 L399.48 145.71 L399.60 145.71 L399.71 145.72 L399.83 145.73 L399.95 145.74 L400.06 145.74 L400.18 145.75 L400.30 145.76 L400.42 145.77 L400.53 145.77 L400.65 145.78 L400.77 145.79 L400.88 145.80 L401.00 145.81 L401.12 145.82 L401.23 145.83 L401.35 145.83 L401.47 145.84 L401.58 145.85 L401.70 145.86 L401.82 145.87 L401.94 145.88 L402.05 145.89 L402.17 145.90 L402.29 145.91 L402.40 145.92 L402.52 145.93 L402.64 145.94 L402.75 145.95 L402.87 145.96 L402.99 145.97 L403.11 145.97 L403.22 145.98 L403.34 145.99 L403.46 146.00 L403.57 146.01 L403.69 146.02 L403.81 146.03 L403.92 146.04 L404.04 146.05 L404.16 146.06 L404.28 146.07 L404.39 146.08 L404.51 146.09 L404.63 146.10 L404.74 146.11 L404.86 146.12 L404.98 146.13 L405.09 146.14 L405.21 146.15 L405.33 146.16 L405.45 146.17 L405.56 146.18 L405.68 146.19 L405.80 146.20 L405.91 146.21 L406.03 146.22 L406.15 146.23 L406.26 146.24 L406.38 146.25 L406.50 146.26 L406.62 146.27 L406.73 146.28 L406.85 146.29 L406.97 146.30 L407.08 146.31 L407.20 146.32 L407.32 146.33 L407.43 146.34 L407.55 146.35 L407.67 146.36 L407.79 146.37 L407.90 146.38 L408.02 146.39 L408.14 146.40 L408.25 146.41 L408.37 146.42 L408.49 146.43 L408.60 146.44 L408.72 146.45 L408.84 146.45 L408.96 146.46 L409.07 146.47 L409.19 146.48 L409.31 146.49 L409.42 146.50 L409.54 146.51 L409.66 146.52 L409.77 146.53 L409.89 146.54 L410.01 146.55 L410.13 146.56 L410.24 146.56 L410.36 146.57 L410.48 146.58 L410.59 146.59 L410.71 146.60 L412.95 146.76 L415.20 146.92 L417.44 147.06 L419.69 147.19 L421.93 147.30 L424.18 147.41 L426.42 147.52 L428.67 147.61 L430.91 147.70 L433.15 147.78 L435.40 147.85 L437.64 147.92 L439.89 147.99 L442.13 148.05 L444.38 148.10 L446.62 148.15 L448.87 148.20 L451.11 148.25 L453.35 148.29 L455.60 148.32 L457.84 148.36 L460.09 148.39 L462.33 148.42 L464.58 148.45 L466.82 148.48 L469.07 148.50 L471.31 148.52 L473.55 148.54 L475.80 148.56 L478.04 148.58 L480.29 148.59 L482.53 148.61 L484.78 148.62 L487.02 148.63 L489.27 148.64 L491.51 148.65 L493.75 148.66 L496.00 148.67 L498.24 148.68 L500.49 148.68 L502.73 148.69 L504.98 148.70 L507.22 148.70 L509.47 148.70 L511.71 148.71 L513.95 148.71 L516.20 148.71 L518.44 148.72 L520.69 148.72 L522.93 148.72 L525.18 148.72 L527.42 148.72 L529.67 148.72 L531.91 148.72 L534.15 148.72 L536.40 148.72 L538.64 148.72 L540.89 148.72 L543.13 148.72 L545.38 148.72 L547.62 148.72 L549.87 148.72 L552.11 148.72 L554.36 148.72 L556.60 148.72 L558.84 148.72 L561.09 148.72 L563.33 148.72 L565.58 148.71 L567.82 148.71 L570.07 148.71 L572.31 148.71 L574.56 148.71 L576.80 148.71 L579.04 148.71 L581.29 148.71 L583.53 148.71 L585.78 148.71 L588.02 148.71 L590.27 148.70 L592.51 148.70 L594.76 148.70 L597.00 148.70 L599.24 148.70 L601.49 148.70 L603.73 148.70 L605.98 148.70 L608.22 148.70 L610.47 148.70 L612.71 148.70 L614.96 148.70 L617.20 148.70 L619.44 148.70 L621.69 148.70 L623.93 148.70 L626.18 148.70 L628.42 148.70 L630.67 148.69 L632.91 148.69 L635.16 148.69 L637.40 148.69 L639.64 148.69 L641.89 148.69 L644.13 148.69 L646.38 148.69 L648.62 148.69 L650.87 148.69 L653.11 148.69 L655.36 148.69 L657.60 148.69 L659.84 148.69 L662.09 148.69 L664.33 148.69 L666.58 148.69 L668.82 148.69 L671.07 148.69 L673.31 148.70 L675.56 148.70 L677.80 148.70" stroke="#2e2eef"/>
</g>
<rect x="376.6" y="0.5" width="306.8" height="183" fill="none" stroke="#939393" stroke-width="1.3"/>
<text x="381.9" y="194.4" text-anchor="middle" class="tl">0</text>
<text x="452.18" y="194.4" text-anchor="middle" class="tl">50</text>
<text x="522.45" y="194.4" text-anchor="middle" class="tl">100</text>
<text x="592.72" y="194.4" text-anchor="middle" class="tl">150</text>
<text x="663" y="194.4" text-anchor="middle" class="tl">200</text>
<text x="374.05" y="177.4" text-anchor="end" class="tl">100</text>
<text x="374.05" y="149.9" text-anchor="end" class="tl">150</text>
<text x="374.05" y="122.4" text-anchor="end" class="tl">200</text>
<text x="374.05" y="94.9" text-anchor="end" class="tl">250</text>
<text x="374.05" y="67.4" text-anchor="end" class="tl">300</text>
<text x="374.05" y="39.9" text-anchor="end" class="tl">350</text>
<text x="374.05" y="12.4" text-anchor="end" class="tl">400</text>
<text x="530" y="210.8" text-anchor="middle" class="xl" textLength="42.6" lengthAdjust="spacingAndGlyphs">time (days)</text>
<text transform="translate(351.9 91.5) rotate(-90)" text-anchor="middle" class="yl" textLength="70.2" lengthAdjust="spacingAndGlyphs">Susceptible&#160;&#160;people</text>
<line x1="417.2" y1="14" x2="433" y2="14" stroke="#f02828" stroke-width="1.8"/>
<text x="440.2" y="17.6" class="lg" textLength="43.8" lengthAdjust="spacingAndGlyphs">S(0)=400</text>
<line x1="497.1" y1="14" x2="513.3" y2="14" stroke="#ff22ff" stroke-width="1.8"/>
<text x="520.6" y="17.6" class="lg" textLength="43.2" lengthAdjust="spacingAndGlyphs">S(0)=200</text>
<line x1="577.4" y1="14" x2="593.4" y2="14" stroke="#2e2eef" stroke-width="1.8"/>
<text x="601" y="17.6" class="lg" textLength="42.7" lengthAdjust="spacingAndGlyphs">S(0)=100</text>
<text x="433.6" y="234.7" class="cap" textLength="161.1" lengthAdjust="spacingAndGlyphs">(b) Susceptible population</text>
<clipPath id="cc"><rect x="34.5" y="284.2" width="306.8" height="183.4"/></clipPath>
<line x1="40.4" y1="284.2" x2="40.4" y2="467.6" stroke="#d4d4d4" stroke-width="1"/>
<line x1="34.5" y1="458.4" x2="341.3" y2="458.4" stroke="#d4d4d4" stroke-width="1"/>
<path d="M40.4 467.6v-4.5 M40.4 284.2v4.5 M54.43 467.6v-2.6 M54.43 284.2v2.6 M68.46 467.6v-2.6 M68.46 284.2v2.6 M82.49 467.6v-2.6 M82.49 284.2v2.6 M96.52 467.6v-2.6 M96.52 284.2v2.6 M110.55 467.6v-4.5 M110.55 284.2v4.5 M124.58 467.6v-2.6 M124.58 284.2v2.6 M138.61 467.6v-2.6 M138.61 284.2v2.6 M152.64 467.6v-2.6 M152.64 284.2v2.6 M166.67 467.6v-2.6 M166.67 284.2v2.6 M180.7 467.6v-4.5 M180.7 284.2v4.5 M194.73 467.6v-2.6 M194.73 284.2v2.6 M208.76 467.6v-2.6 M208.76 284.2v2.6 M222.79 467.6v-2.6 M222.79 284.2v2.6 M236.82 467.6v-2.6 M236.82 284.2v2.6 M250.85 467.6v-4.5 M250.85 284.2v4.5 M264.88 467.6v-2.6 M264.88 284.2v2.6 M278.91 467.6v-2.6 M278.91 284.2v2.6 M292.94 467.6v-2.6 M292.94 284.2v2.6 M306.97 467.6v-2.6 M306.97 284.2v2.6 M321 467.6v-4.5 M321 284.2v4.5 M335.03 467.6v-2.6 M335.03 284.2v2.6 M34.5 465.69h2.6 M341.3 465.69h-2.6 M34.5 458.4h4.5 M341.3 458.4h-4.5 M34.5 451.11h2.6 M341.3 451.11h-2.6 M34.5 443.83h2.6 M341.3 443.83h-2.6 M34.5 436.54h2.6 M341.3 436.54h-2.6 M34.5 429.26h4.5 M341.3 429.26h-4.5 M34.5 421.97h2.6 M341.3 421.97h-2.6 M34.5 414.69h2.6 M341.3 414.69h-2.6 M34.5 407.4h2.6 M341.3 407.4h-2.6 M34.5 400.12h4.5 M341.3 400.12h-4.5 M34.5 392.83h2.6 M341.3 392.83h-2.6 M34.5 385.55h2.6 M341.3 385.55h-2.6 M34.5 378.26h2.6 M341.3 378.26h-2.6 M34.5 370.98h4.5 M341.3 370.98h-4.5 M34.5 363.69h2.6 M341.3 363.69h-2.6 M34.5 356.41h2.6 M341.3 356.41h-2.6 M34.5 349.12h2.6 M341.3 349.12h-2.6 M34.5 341.84h4.5 M341.3 341.84h-4.5 M34.5 334.56h2.6 M341.3 334.56h-2.6 M34.5 327.27h2.6 M341.3 327.27h-2.6 M34.5 319.99h2.6 M341.3 319.99h-2.6 M34.5 312.7h4.5 M341.3 312.7h-4.5 M34.5 305.41h2.6 M341.3 305.41h-2.6 M34.5 298.13h2.6 M341.3 298.13h-2.6 M34.5 290.84h2.6 M341.3 290.84h-2.6" stroke="#5e5e5e" stroke-width="1" fill="none"/>
<g clip-path="url(#cc)" fill="none" stroke-width="1.9" stroke-linejoin="round" stroke-linecap="butt">
<path d="M40.60 312.70 L40.72 306.78 L40.83 304.25 L40.95 303.16 L41.07 302.56 L41.18 302.05 L41.30 301.46 L41.42 300.76 L41.53 299.97 L41.65 299.12 L41.77 298.27 L41.88 297.45 L42.00 296.68 L42.12 296.01 L42.23 295.43 L42.35 294.97 L42.47 294.63 L42.58 294.41 L42.70 294.31 L42.81 294.34 L42.93 294.47 L43.05 294.72 L43.16 295.07 L43.28 295.52 L43.40 296.05 L43.51 296.67 L43.63 297.36 L43.75 298.13 L43.86 298.95 L43.98 299.83 L44.10 300.77 L44.21 301.74 L44.33 302.76 L44.45 303.81 L44.56 304.89 L44.68 305.99 L44.80 307.12 L44.91 308.26 L45.03 309.42 L45.15 310.59 L45.26 311.76 L45.38 312.95 L45.50 314.13 L45.61 315.32 L45.73 316.51 L45.85 317.69 L45.96 318.88 L46.08 320.05 L46.20 321.22 L46.31 322.38 L46.43 323.53 L46.55 324.68 L46.66 325.81 L46.78 326.93 L46.89 328.04 L47.01 329.14 L47.13 330.22 L47.24 331.29 L47.36 332.35 L47.48 333.39 L47.59 334.42 L47.71 335.44 L47.83 336.44 L47.94 337.42 L48.06 338.39 L48.18 339.35 L48.29 340.29 L48.41 341.22 L48.53 342.13 L48.64 343.03 L48.76 343.92 L48.88 344.79 L48.99 345.64 L49.11 346.49 L49.23 347.31 L49.34 348.13 L49.46 348.93 L49.58 349.72 L49.69 350.49 L49.81 351.25 L49.93 352.00 L50.04 352.74 L50.16 353.46 L50.28 354.18 L50.39 354.88 L50.51 355.56 L50.62 356.24 L50.74 356.91 L50.86 357.56 L50.97 358.21 L51.09 358.84 L51.21 359.46 L51.32 360.07 L51.44 360.68 L51.56 361.27 L51.67 361.85 L51.79 362.42 L51.91 362.99 L52.02 363.54 L52.14 364.09 L52.26 364.63 L52.37 365.16 L52.49 365.68 L52.61 366.19 L52.72 366.69 L52.84 367.19 L52.96 367.68 L53.07 368.16 L53.19 368.63 L53.31 369.10 L53.42 369.56 L53.54 370.01 L53.66 370.46 L53.77 370.90 L53.89 371.33 L54.01 371.76 L54.12 372.18 L54.24 372.60 L54.36 373.01 L54.47 373.41 L54.59 373.81 L54.70 374.20 L54.82 374.59 L54.94 374.97 L55.05 375.35 L55.17 375.72 L55.29 376.08 L55.40 376.45 L55.52 376.80 L55.64 377.16 L55.75 377.50 L55.87 377.85 L55.99 378.19 L56.10 378.52 L56.22 378.85 L56.34 379.18 L56.45 379.50 L56.57 379.82 L56.69 380.14 L56.80 380.45 L56.92 380.76 L57.04 381.06 L57.15 381.36 L57.27 381.66 L57.39 381.95 L57.50 382.24 L57.62 382.53 L57.74 382.81 L57.85 383.09 L57.97 383.37 L58.09 383.65 L58.20 383.92 L58.32 384.19 L58.44 384.46 L58.55 384.72 L58.67 384.98 L58.78 385.24 L58.90 385.50 L59.02 385.75 L59.13 386.00 L59.25 386.25 L59.37 386.49 L59.48 386.74 L59.60 386.98 L59.72 387.22 L59.83 387.45 L59.95 387.69 L60.07 387.92 L60.18 388.15 L60.30 388.38 L60.42 388.60 L60.53 388.83 L60.65 389.05 L60.77 389.27 L60.88 389.49 L61.00 389.71 L61.12 389.92 L61.23 390.13 L61.35 390.34 L61.47 390.55 L61.58 390.76 L61.70 390.97 L61.82 391.17 L61.93 391.37 L62.05 391.57 L62.17 391.77 L62.28 391.97 L62.40 392.16 L62.51 392.36 L62.63 392.55 L62.75 392.74 L62.86 392.93 L62.98 393.12 L63.10 393.31 L63.21 393.49 L63.33 393.68 L63.45 393.86 L63.56 394.04 L63.68 394.22 L63.80 394.40 L63.91 394.58 L64.03 394.76 L64.15 394.93 L64.26 395.10 L64.38 395.28 L64.50 395.45 L64.61 395.62 L64.73 395.79 L64.85 395.96 L64.96 396.12 L65.08 396.29 L65.20 396.45 L65.31 396.61 L65.43 396.78 L65.55 396.94 L65.66 397.10 L65.78 397.26 L65.90 397.41 L66.01 397.57 L66.13 397.73 L66.25 397.88 L66.36 398.03 L66.48 398.19 L66.59 398.34 L66.71 398.49 L66.83 398.64 L66.94 398.79 L67.06 398.94 L67.18 399.08 L67.29 399.23 L67.41 399.37 L67.53 399.52 L67.64 399.66 L67.76 399.80 L67.88 399.94 L67.99 400.09 L68.11 400.22 L68.23 400.36 L68.34 400.50 L68.46 400.64 L70.70 403.12 L72.94 405.33 L75.18 407.31 L77.43 409.09 L79.67 410.68 L81.91 412.10 L84.15 413.38 L86.39 414.53 L88.63 415.55 L90.88 416.47 L93.12 417.30 L95.36 418.04 L97.60 418.70 L99.84 419.30 L102.08 419.83 L104.32 420.32 L106.57 420.75 L108.81 421.15 L111.05 421.50 L113.29 421.83 L115.53 422.12 L117.77 422.39 L120.01 422.64 L122.26 422.86 L124.50 423.07 L126.74 423.26 L128.98 423.44 L131.22 423.61 L133.46 423.76 L135.71 423.90 L137.95 424.04 L140.19 424.17 L142.43 424.29 L144.67 424.41 L146.91 424.51 L149.15 424.62 L151.40 424.72 L153.64 424.81 L155.88 424.90 L158.12 424.99 L160.36 425.08 L162.60 425.16 L164.85 425.23 L167.09 425.31 L169.33 425.38 L171.57 425.45 L173.81 425.52 L176.05 425.59 L178.29 425.65 L180.54 425.71 L182.78 425.77 L185.02 425.83 L187.26 425.88 L189.50 425.94 L191.74 425.99 L193.98 426.04 L196.23 426.09 L198.47 426.13 L200.71 426.18 L202.95 426.22 L205.19 426.26 L207.43 426.30 L209.68 426.34 L211.92 426.38 L214.16 426.41 L216.40 426.45 L218.64 426.48 L220.88 426.51 L223.12 426.54 L225.37 426.57 L227.61 426.59 L229.85 426.62 L232.09 426.64 L234.33 426.67 L236.57 426.69 L238.81 426.71 L241.06 426.73 L243.30 426.75 L245.54 426.76 L247.78 426.78 L250.02 426.79 L252.26 426.81 L254.51 426.82 L256.75 426.83 L258.99 426.84 L261.23 426.85 L263.47 426.86 L265.71 426.87 L267.95 426.88 L270.20 426.88 L272.44 426.89 L274.68 426.90 L276.92 426.90 L279.16 426.90 L281.40 426.91 L283.65 426.91 L285.89 426.91 L288.13 426.91 L290.37 426.91 L292.61 426.91 L294.85 426.91 L297.09 426.91 L299.34 426.91 L301.58 426.91 L303.82 426.90 L306.06 426.90 L308.30 426.90 L310.54 426.89 L312.78 426.89 L315.03 426.89 L317.27 426.88 L319.51 426.88 L321.75 426.87 L323.99 426.86 L326.23 426.86 L328.48 426.85 L330.72 426.84 L332.96 426.84 L335.20 426.83" stroke="#f02828"/>
<path d="M40.60 400.10 L40.72 401.03 L40.83 403.00 L40.95 405.26 L41.07 407.48 L41.18 409.53 L41.30 411.37 L41.42 413.00 L41.53 414.43 L41.65 415.69 L41.77 416.80 L41.88 417.78 L42.00 418.65 L42.12 419.42 L42.23 420.11 L42.35 420.72 L42.47 421.28 L42.58 421.78 L42.70 422.23 L42.81 422.63 L42.93 423.00 L43.05 423.34 L43.16 423.64 L43.28 423.92 L43.40 424.18 L43.51 424.41 L43.63 424.62 L43.75 424.82 L43.86 425.00 L43.98 425.16 L44.10 425.31 L44.21 425.45 L44.33 425.58 L44.45 425.69 L44.56 425.80 L44.68 425.90 L44.80 425.99 L44.91 426.08 L45.03 426.16 L45.15 426.23 L45.26 426.29 L45.38 426.36 L45.50 426.41 L45.61 426.46 L45.73 426.51 L45.85 426.56 L45.96 426.60 L46.08 426.64 L46.20 426.67 L46.31 426.70 L46.43 426.73 L46.55 426.76 L46.66 426.78 L46.78 426.81 L46.89 426.83 L47.01 426.85 L47.13 426.87 L47.24 426.88 L47.36 426.90 L47.48 426.91 L47.59 426.93 L47.71 426.94 L47.83 426.95 L47.94 426.96 L48.06 426.97 L48.18 426.97 L48.29 426.98 L48.41 426.99 L48.53 426.99 L48.64 427.00 L48.76 427.00 L48.88 427.01 L48.99 427.01 L49.11 427.02 L49.23 427.02 L49.34 427.02 L49.46 427.02 L49.58 427.03 L49.69 427.03 L49.81 427.03 L49.93 427.03 L50.04 427.03 L50.16 427.03 L50.28 427.03 L50.39 427.03 L50.51 427.03 L50.62 427.03 L50.74 427.03 L50.86 427.03 L50.97 427.03 L51.09 427.03 L51.21 427.03 L51.32 427.03 L51.44 427.03 L51.56 427.03 L51.67 427.03 L51.79 427.03 L51.91 427.03 L52.02 427.03 L52.14 427.02 L52.26 427.02 L52.37 427.02 L52.49 427.02 L52.61 427.02 L52.72 427.02 L52.84 427.02 L52.96 427.02 L53.07 427.02 L53.19 427.01 L53.31 427.01 L53.42 427.01 L53.54 427.01 L53.66 427.01 L53.77 427.01 L53.89 427.01 L54.01 427.01 L54.12 427.01 L54.24 427.00 L54.36 427.00 L54.47 427.00 L54.59 427.00 L54.70 427.00 L54.82 427.00 L54.94 427.00 L55.05 427.00 L55.17 427.00 L55.29 427.00 L55.40 426.99 L55.52 426.99 L55.64 426.99 L55.75 426.99 L55.87 426.99 L55.99 426.99 L56.10 426.99 L56.22 426.99 L56.34 426.99 L56.45 426.99 L56.57 426.99 L56.69 426.99 L56.80 426.98 L56.92 426.98 L57.04 426.98 L57.15 426.98 L57.27 426.98 L57.39 426.98 L57.50 426.98 L57.62 426.98 L57.74 426.98 L57.85 426.98 L57.97 426.98 L58.09 426.98 L58.20 426.98 L58.32 426.98 L58.44 426.98 L58.55 426.98 L58.67 426.98 L58.78 426.98 L58.90 426.97 L59.02 426.97 L59.13 426.97 L59.25 426.97 L59.37 426.97 L59.48 426.97 L59.60 426.97 L59.72 426.97 L59.83 426.97 L59.95 426.97 L60.07 426.97 L60.18 426.97 L60.30 426.97 L60.42 426.97 L60.53 426.97 L60.65 426.97 L60.77 426.97 L60.88 426.97 L61.00 426.97 L61.12 426.97 L61.23 426.97 L61.35 426.97 L61.47 426.97 L61.58 426.97 L61.70 426.97 L61.82 426.97 L61.93 426.97 L62.05 426.97 L62.17 426.97 L62.28 426.97 L62.40 426.97 L62.51 426.97 L62.63 426.97 L62.75 426.97 L62.86 426.97 L62.98 426.97 L63.10 426.97 L63.21 426.97 L63.33 426.97 L63.45 426.97 L63.56 426.97 L63.68 426.97 L63.80 426.97 L63.91 426.96 L64.03 426.96 L64.15 426.96 L64.26 426.96 L64.38 426.96 L64.50 426.96 L64.61 426.96 L64.73 426.96 L64.85 426.96 L64.96 426.96 L65.08 426.96 L65.20 426.96 L65.31 426.96 L65.43 426.96 L65.55 426.96 L65.66 426.96 L65.78 426.96 L65.90 426.96 L66.01 426.96 L66.13 426.96 L66.25 426.96 L66.36 426.96 L66.48 426.96 L66.59 426.96 L66.71 426.96 L66.83 426.96 L66.94 426.96 L67.06 426.96 L67.18 426.96 L67.29 426.96 L67.41 426.96 L67.53 426.96 L67.64 426.96 L67.76 426.96 L67.88 426.96 L67.99 426.96 L68.11 426.96 L68.23 426.96 L68.34 426.96 L68.46 426.96 L70.70 426.96 L72.94 426.96 L75.18 426.95 L77.43 426.95 L79.67 426.95 L81.91 426.94 L84.15 426.94 L86.39 426.93 L88.63 426.93 L90.88 426.92 L93.12 426.92 L95.36 426.92 L97.60 426.91 L99.84 426.91 L102.08 426.90 L104.32 426.90 L106.57 426.90 L108.81 426.89 L111.05 426.89 L113.29 426.88 L115.53 426.88 L117.77 426.88 L120.01 426.87 L122.26 426.87 L124.50 426.87 L126.74 426.87 L128.98 426.86 L131.22 426.86 L133.46 426.86 L135.71 426.86 L137.95 426.85 L140.19 426.85 L142.43 426.85 L144.67 426.85 L146.91 426.84 L149.15 426.84 L151.40 426.84 L153.64 426.84 L155.88 426.84 L158.12 426.83 L160.36 426.83 L162.60 426.83 L164.85 426.83 L167.09 426.83 L169.33 426.83 L171.57 426.82 L173.81 426.82 L176.05 426.82 L178.29 426.82 L180.54 426.82 L182.78 426.82 L185.02 426.82 L187.26 426.81 L189.50 426.81 L191.74 426.81 L193.98 426.81 L196.23 426.81 L198.47 426.81 L200.71 426.81 L202.95 426.81 L205.19 426.81 L207.43 426.81 L209.68 426.81 L211.92 426.80 L214.16 426.80 L216.40 426.80 L218.64 426.80 L220.88 426.80 L223.12 426.80 L225.37 426.80 L227.61 426.80 L229.85 426.80 L232.09 426.80 L234.33 426.80 L236.57 426.80 L238.81 426.80 L241.06 426.80 L243.30 426.80 L245.54 426.80 L247.78 426.80 L250.02 426.80 L252.26 426.80 L254.51 426.80 L256.75 426.80 L258.99 426.80 L261.23 426.80 L263.47 426.80 L265.71 426.80 L267.95 426.80 L270.20 426.80 L272.44 426.80 L274.68 426.80 L276.92 426.80 L279.16 426.80 L281.40 426.80 L283.65 426.80 L285.89 426.80 L288.13 426.80 L290.37 426.80 L292.61 426.80 L294.85 426.80 L297.09 426.80 L299.34 426.80 L301.58 426.80 L303.82 426.80 L306.06 426.80 L308.30 426.80 L310.54 426.80 L312.78 426.80 L315.03 426.80 L317.27 426.80 L319.51 426.80 L321.75 426.80 L323.99 426.80 L326.23 426.80 L328.48 426.80 L330.72 426.80 L332.96 426.80 L335.20 426.80" stroke="#ff22ff"/>
<path d="M40.60 458.40 L40.72 457.88 L40.83 457.29 L40.95 456.64 L41.07 455.96 L41.18 455.25 L41.30 454.51 L41.42 453.77 L41.53 453.03 L41.65 452.29 L41.77 451.56 L41.88 450.83 L42.00 450.13 L42.12 449.44 L42.23 448.78 L42.35 448.13 L42.47 447.51 L42.58 446.92 L42.70 446.34 L42.81 445.79 L42.93 445.27 L43.05 444.77 L43.16 444.29 L43.28 443.84 L43.40 443.41 L43.51 443.00 L43.63 442.61 L43.75 442.24 L43.86 441.90 L43.98 441.57 L44.10 441.26 L44.21 440.97 L44.33 440.69 L44.45 440.43 L44.56 440.18 L44.68 439.95 L44.80 439.74 L44.91 439.53 L45.03 439.34 L45.15 439.16 L45.26 438.99 L45.38 438.82 L45.50 438.67 L45.61 438.53 L45.73 438.40 L45.85 438.27 L45.96 438.15 L46.08 438.04 L46.20 437.94 L46.31 437.84 L46.43 437.74 L46.55 437.65 L46.66 437.57 L46.78 437.49 L46.89 437.42 L47.01 437.35 L47.13 437.28 L47.24 437.22 L47.36 437.16 L47.48 437.10 L47.59 437.05 L47.71 436.99 L47.83 436.94 L47.94 436.90 L48.06 436.85 L48.18 436.81 L48.29 436.77 L48.41 436.73 L48.53 436.69 L48.64 436.65 L48.76 436.61 L48.88 436.58 L48.99 436.54 L49.11 436.51 L49.23 436.48 L49.34 436.45 L49.46 436.42 L49.58 436.39 L49.69 436.36 L49.81 436.33 L49.93 436.30 L50.04 436.27 L50.16 436.24 L50.28 436.22 L50.39 436.19 L50.51 436.16 L50.62 436.14 L50.74 436.11 L50.86 436.09 L50.97 436.06 L51.09 436.04 L51.21 436.01 L51.32 435.98 L51.44 435.96 L51.56 435.93 L51.67 435.91 L51.79 435.88 L51.91 435.86 L52.02 435.84 L52.14 435.81 L52.26 435.79 L52.37 435.76 L52.49 435.74 L52.61 435.71 L52.72 435.69 L52.84 435.66 L52.96 435.64 L53.07 435.61 L53.19 435.59 L53.31 435.56 L53.42 435.54 L53.54 435.51 L53.66 435.49 L53.77 435.47 L53.89 435.44 L54.01 435.42 L54.12 435.39 L54.24 435.37 L54.36 435.34 L54.47 435.32 L54.59 435.29 L54.70 435.27 L54.82 435.24 L54.94 435.22 L55.05 435.20 L55.17 435.17 L55.29 435.15 L55.40 435.12 L55.52 435.10 L55.64 435.07 L55.75 435.05 L55.87 435.02 L55.99 435.00 L56.10 434.98 L56.22 434.95 L56.34 434.93 L56.45 434.90 L56.57 434.88 L56.69 434.85 L56.80 434.83 L56.92 434.81 L57.04 434.78 L57.15 434.76 L57.27 434.73 L57.39 434.71 L57.50 434.69 L57.62 434.66 L57.74 434.64 L57.85 434.62 L57.97 434.59 L58.09 434.57 L58.20 434.55 L58.32 434.52 L58.44 434.50 L58.55 434.48 L58.67 434.45 L58.78 434.43 L58.90 434.41 L59.02 434.39 L59.13 434.36 L59.25 434.34 L59.37 434.32 L59.48 434.29 L59.60 434.27 L59.72 434.25 L59.83 434.23 L59.95 434.21 L60.07 434.18 L60.18 434.16 L60.30 434.14 L60.42 434.12 L60.53 434.10 L60.65 434.07 L60.77 434.05 L60.88 434.03 L61.00 434.01 L61.12 433.99 L61.23 433.97 L61.35 433.95 L61.47 433.93 L61.58 433.91 L61.70 433.88 L61.82 433.86 L61.93 433.84 L62.05 433.82 L62.17 433.80 L62.28 433.78 L62.40 433.76 L62.51 433.74 L62.63 433.72 L62.75 433.70 L62.86 433.68 L62.98 433.66 L63.10 433.64 L63.21 433.62 L63.33 433.60 L63.45 433.59 L63.56 433.57 L63.68 433.55 L63.80 433.53 L63.91 433.51 L64.03 433.49 L64.15 433.47 L64.26 433.45 L64.38 433.43 L64.50 433.42 L64.61 433.40 L64.73 433.38 L64.85 433.36 L64.96 433.34 L65.08 433.32 L65.20 433.31 L65.31 433.29 L65.43 433.27 L65.55 433.25 L65.66 433.24 L65.78 433.22 L65.90 433.20 L66.01 433.18 L66.13 433.17 L66.25 433.15 L66.36 433.13 L66.48 433.11 L66.59 433.10 L66.71 433.08 L66.83 433.06 L66.94 433.05 L67.06 433.03 L67.18 433.01 L67.29 433.00 L67.41 432.98 L67.53 432.97 L67.64 432.95 L67.76 432.93 L67.88 432.92 L67.99 432.90 L68.11 432.89 L68.23 432.87 L68.34 432.85 L68.46 432.84 L70.70 432.55 L72.94 432.28 L75.18 432.04 L77.43 431.81 L79.67 431.59 L81.91 431.39 L84.15 431.19 L86.39 431.01 L88.63 430.83 L90.88 430.66 L93.12 430.49 L95.36 430.34 L97.60 430.18 L99.84 430.03 L102.08 429.89 L104.32 429.75 L106.57 429.62 L108.81 429.49 L111.05 429.37 L113.29 429.25 L115.53 429.14 L117.77 429.03 L120.01 428.92 L122.26 428.82 L124.50 428.72 L126.74 428.63 L128.98 428.54 L131.22 428.46 L133.46 428.37 L135.71 428.29 L137.95 428.22 L140.19 428.15 L142.43 428.08 L144.67 428.01 L146.91 427.95 L149.15 427.89 L151.40 427.83 L153.64 427.78 L155.88 427.72 L158.12 427.67 L160.36 427.63 L162.60 427.58 L164.85 427.54 L167.09 427.50 L169.33 427.46 L171.57 427.42 L173.81 427.39 L176.05 427.35 L178.29 427.32 L180.54 427.29 L182.78 427.26 L185.02 427.23 L187.26 427.21 L189.50 427.18 L191.74 427.16 L193.98 427.14 L196.23 427.12 L198.47 427.10 L200.71 427.08 L202.95 427.06 L205.19 427.04 L207.43 427.03 L209.68 427.01 L211.92 427.00 L214.16 426.98 L216.40 426.97 L218.64 426.96 L220.88 426.95 L223.12 426.93 L225.37 426.92 L227.61 426.92 L229.85 426.91 L232.09 426.90 L234.33 426.89 L236.57 426.88 L238.81 426.88 L241.06 426.87 L243.30 426.86 L245.54 426.86 L247.78 426.85 L250.02 426.85 L252.26 426.84 L254.51 426.84 L256.75 426.83 L258.99 426.83 L261.23 426.83 L263.47 426.82 L265.71 426.82 L267.95 426.82 L270.20 426.81 L272.44 426.81 L274.68 426.81 L276.92 426.81 L279.16 426.81 L281.40 426.80 L283.65 426.80 L285.89 426.80 L288.13 426.80 L290.37 426.80 L292.61 426.80 L294.85 426.80 L297.09 426.80 L299.34 426.80 L301.58 426.80 L303.82 426.80 L306.06 426.80 L308.30 426.80 L310.54 426.80 L312.78 426.80 L315.03 426.80 L317.27 426.80 L319.51 426.80 L321.75 426.80 L323.99 426.80 L326.23 426.80 L328.48 426.80 L330.72 426.80 L332.96 426.80 L335.20 426.80" stroke="#2e2eef"/>
</g>
<rect x="34.5" y="284.2" width="306.8" height="183.4" fill="none" stroke="#939393" stroke-width="1.3"/>
<text x="39.7" y="478.9" text-anchor="middle" class="tl">0</text>
<text x="109.85" y="478.9" text-anchor="middle" class="tl">50</text>
<text x="180" y="478.9" text-anchor="middle" class="tl">100</text>
<text x="250.15" y="478.9" text-anchor="middle" class="tl">150</text>
<text x="320.3" y="478.9" text-anchor="middle" class="tl">200</text>
<text x="30.75" y="461.4" text-anchor="end" class="tl">0</text>
<text x="30.75" y="432.26" text-anchor="end" class="tl">20</text>
<text x="30.75" y="403.12" text-anchor="end" class="tl">40</text>
<text x="30.75" y="373.98" text-anchor="end" class="tl">60</text>
<text x="30.75" y="344.84" text-anchor="end" class="tl">80</text>
<text x="30.75" y="315.7" text-anchor="end" class="tl">100</text>
<text x="187.9" y="494.9" text-anchor="middle" class="xl" textLength="42.6" lengthAdjust="spacingAndGlyphs">time (days)</text>
<text transform="translate(9.6 375.8) rotate(-90)" text-anchor="middle" class="yl" textLength="80" lengthAdjust="spacingAndGlyphs">People in latent phase</text>
<line x1="264.9" y1="347.7" x2="281.9" y2="347.7" stroke="#f02828" stroke-width="1.8"/>
<text x="287.9" y="351.3" class="lg" textLength="44.6" lengthAdjust="spacingAndGlyphs">L(0)=100</text>
<line x1="264.9" y1="375.1" x2="281.9" y2="375.1" stroke="#ff22ff" stroke-width="1.8"/>
<text x="287.9" y="378.7" class="lg" textLength="38.5" lengthAdjust="spacingAndGlyphs">L(0)=40</text>
<line x1="264.9" y1="402.9" x2="281.9" y2="402.9" stroke="#2e2eef" stroke-width="1.8"/>
<text x="287.9" y="406.5" class="lg" textLength="38.5" lengthAdjust="spacingAndGlyphs">L(0)=00</text>
<text x="31.7" y="518.7" class="cap" textLength="279.4" lengthAdjust="spacingAndGlyphs">(c) Population in the latent phase of infection</text>
<clipPath id="cd"><rect x="372.2" y="288" width="311.3" height="180.2"/></clipPath>
<line x1="378.6" y1="288" x2="378.6" y2="468.2" stroke="#d4d4d4" stroke-width="1"/>
<line x1="372.2" y1="459.4" x2="683.5" y2="459.4" stroke="#d4d4d4" stroke-width="1"/>
<path d="M378.6 468.2v-4.5 M378.6 288v4.5 M392.85 468.2v-2.6 M392.85 288v2.6 M407.09 468.2v-2.6 M407.09 288v2.6 M421.34 468.2v-2.6 M421.34 288v2.6 M435.58 468.2v-2.6 M435.58 288v2.6 M449.83 468.2v-4.5 M449.83 288v4.5 M464.07 468.2v-2.6 M464.07 288v2.6 M478.32 468.2v-2.6 M478.32 288v2.6 M492.56 468.2v-2.6 M492.56 288v2.6 M506.81 468.2v-2.6 M506.81 288v2.6 M521.05 468.2v-4.5 M521.05 288v4.5 M535.3 468.2v-2.6 M535.3 288v2.6 M549.54 468.2v-2.6 M549.54 288v2.6 M563.79 468.2v-2.6 M563.79 288v2.6 M578.03 468.2v-2.6 M578.03 288v2.6 M592.28 468.2v-4.5 M592.28 288v4.5 M606.52 468.2v-2.6 M606.52 288v2.6 M620.76 468.2v-2.6 M620.76 288v2.6 M635.01 468.2v-2.6 M635.01 288v2.6 M649.25 468.2v-2.6 M649.25 288v2.6 M663.5 468.2v-4.5 M663.5 288v4.5 M677.75 468.2v-2.6 M677.75 288v2.6 M372.2 465.07h2.6 M683.5 465.07h-2.6 M372.2 459.4h4.5 M683.5 459.4h-4.5 M372.2 453.73h2.6 M683.5 453.73h-2.6 M372.2 448.07h2.6 M683.5 448.07h-2.6 M372.2 442.4h2.6 M683.5 442.4h-2.6 M372.2 436.73h2.6 M683.5 436.73h-2.6 M372.2 431.07h4.5 M683.5 431.07h-4.5 M372.2 425.4h2.6 M683.5 425.4h-2.6 M372.2 419.73h2.6 M683.5 419.73h-2.6 M372.2 414.07h2.6 M683.5 414.07h-2.6 M372.2 408.4h2.6 M683.5 408.4h-2.6 M372.2 402.73h4.5 M683.5 402.73h-4.5 M372.2 397.07h2.6 M683.5 397.07h-2.6 M372.2 391.4h2.6 M683.5 391.4h-2.6 M372.2 385.73h2.6 M683.5 385.73h-2.6 M372.2 380.07h2.6 M683.5 380.07h-2.6 M372.2 374.4h4.5 M683.5 374.4h-4.5 M372.2 368.73h2.6 M683.5 368.73h-2.6 M372.2 363.07h2.6 M683.5 363.07h-2.6 M372.2 357.4h2.6 M683.5 357.4h-2.6 M372.2 351.73h2.6 M683.5 351.73h-2.6 M372.2 346.07h4.5 M683.5 346.07h-4.5 M372.2 340.4h2.6 M683.5 340.4h-2.6 M372.2 334.73h2.6 M683.5 334.73h-2.6 M372.2 329.07h2.6 M683.5 329.07h-2.6 M372.2 323.4h2.6 M683.5 323.4h-2.6 M372.2 317.73h4.5 M683.5 317.73h-4.5 M372.2 312.07h2.6 M683.5 312.07h-2.6 M372.2 306.4h2.6 M683.5 306.4h-2.6 M372.2 300.73h2.6 M683.5 300.73h-2.6 M372.2 295.07h2.6 M683.5 295.07h-2.6 M372.2 289.4h4.5 M683.5 289.4h-4.5" stroke="#5e5e5e" stroke-width="1" fill="none"/>
<g clip-path="url(#cd)" fill="none" stroke-width="1.9" stroke-linejoin="round" stroke-linecap="butt">
<path d="M378.60 374.40 L378.72 366.20 L378.84 361.99 L378.96 359.41 L379.08 357.32 L379.20 355.21 L379.32 352.89 L379.43 350.30 L379.55 347.49 L379.67 344.50 L379.79 341.39 L379.91 338.24 L380.03 335.08 L380.15 331.96 L380.27 328.92 L380.39 325.99 L380.51 323.18 L380.63 320.52 L380.75 318.00 L380.86 315.64 L380.98 313.44 L381.10 311.41 L381.22 309.53 L381.34 307.81 L381.46 306.25 L381.58 304.83 L381.70 303.56 L381.82 302.42 L381.94 301.42 L382.06 300.54 L382.18 299.79 L382.30 299.14 L382.41 298.60 L382.53 298.17 L382.65 297.83 L382.77 297.58 L382.89 297.41 L383.01 297.32 L383.13 297.30 L383.25 297.36 L383.37 297.48 L383.49 297.66 L383.61 297.89 L383.73 298.18 L383.85 298.51 L383.96 298.89 L384.08 299.31 L384.20 299.77 L384.32 300.27 L384.44 300.80 L384.56 301.35 L384.68 301.94 L384.80 302.55 L384.92 303.18 L385.04 303.84 L385.16 304.51 L385.28 305.21 L385.39 305.91 L385.51 306.64 L385.63 307.37 L385.75 308.12 L385.87 308.87 L385.99 309.64 L386.11 310.41 L386.23 311.19 L386.35 311.97 L386.47 312.76 L386.59 313.56 L386.71 314.35 L386.83 315.15 L386.94 315.95 L387.06 316.75 L387.18 317.56 L387.30 318.36 L387.42 319.16 L387.54 319.96 L387.66 320.76 L387.78 321.55 L387.90 322.35 L388.02 323.14 L388.14 323.93 L388.26 324.71 L388.37 325.49 L388.49 326.27 L388.61 327.04 L388.73 327.81 L388.85 328.57 L388.97 329.33 L389.09 330.08 L389.21 330.83 L389.33 331.57 L389.45 332.31 L389.57 333.04 L389.69 333.77 L389.81 334.49 L389.92 335.21 L390.04 335.92 L390.16 336.62 L390.28 337.32 L390.40 338.01 L390.52 338.69 L390.64 339.37 L390.76 340.05 L390.88 340.71 L391.00 341.38 L391.12 342.03 L391.24 342.68 L391.35 343.32 L391.47 343.96 L391.59 344.59 L391.71 345.21 L391.83 345.83 L391.95 346.44 L392.07 347.05 L392.19 347.65 L392.31 348.25 L392.43 348.83 L392.55 349.42 L392.67 349.99 L392.79 350.57 L392.90 351.13 L393.02 351.69 L393.14 352.24 L393.26 352.79 L393.38 353.33 L393.50 353.87 L393.62 354.40 L393.74 354.93 L393.86 355.45 L393.98 355.97 L394.10 356.48 L394.22 356.98 L394.34 357.48 L394.45 357.97 L394.57 358.46 L394.69 358.95 L394.81 359.43 L394.93 359.90 L395.05 360.37 L395.17 360.84 L395.29 361.30 L395.41 361.75 L395.53 362.20 L395.65 362.65 L395.77 363.09 L395.88 363.52 L396.00 363.96 L396.12 364.38 L396.24 364.81 L396.36 365.22 L396.48 365.64 L396.60 366.05 L396.72 366.45 L396.84 366.86 L396.96 367.25 L397.08 367.65 L397.20 368.04 L397.32 368.42 L397.43 368.80 L397.55 369.18 L397.67 369.56 L397.79 369.93 L397.91 370.29 L398.03 370.66 L398.15 371.01 L398.27 371.37 L398.39 371.72 L398.51 372.07 L398.63 372.41 L398.75 372.76 L398.86 373.09 L398.98 373.43 L399.10 373.76 L399.22 374.09 L399.34 374.41 L399.46 374.73 L399.58 375.05 L399.70 375.37 L399.82 375.68 L399.94 375.99 L400.06 376.30 L400.18 376.60 L400.30 376.90 L400.41 377.20 L400.53 377.49 L400.65 377.78 L400.77 378.07 L400.89 378.36 L401.01 378.64 L401.13 378.92 L401.25 379.20 L401.37 379.47 L401.49 379.75 L401.61 380.02 L401.73 380.28 L401.84 380.55 L401.96 380.81 L402.08 381.07 L402.20 381.33 L402.32 381.58 L402.44 381.83 L402.56 382.09 L402.68 382.33 L402.80 382.58 L402.92 382.82 L403.04 383.06 L403.16 383.30 L403.28 383.54 L403.39 383.77 L403.51 384.01 L403.63 384.24 L403.75 384.47 L403.87 384.69 L403.99 384.92 L404.11 385.14 L404.23 385.36 L404.35 385.58 L404.47 385.79 L404.59 386.01 L404.71 386.22 L404.83 386.43 L404.94 386.64 L405.06 386.85 L405.18 387.05 L405.30 387.26 L405.42 387.46 L405.54 387.66 L405.66 387.85 L405.78 388.05 L405.90 388.25 L406.02 388.44 L406.14 388.63 L406.26 388.82 L406.37 389.01 L406.49 389.19 L406.61 389.38 L406.73 389.56 L406.85 389.74 L406.97 389.93 L407.09 390.10 L409.36 393.25 L411.64 395.95 L413.91 398.29 L416.19 400.34 L418.46 402.14 L420.73 403.73 L423.01 405.15 L425.28 406.43 L427.56 407.58 L429.83 408.62 L432.10 409.57 L434.38 410.44 L436.65 411.23 L438.93 411.96 L441.20 412.64 L443.47 413.27 L445.75 413.85 L448.02 414.39 L450.30 414.89 L452.57 415.36 L454.84 415.79 L457.12 416.20 L459.39 416.59 L461.67 416.94 L463.94 417.28 L466.21 417.60 L468.49 417.89 L470.76 418.17 L473.04 418.43 L475.31 418.68 L477.59 418.91 L479.86 419.13 L482.13 419.34 L484.41 419.53 L486.68 419.71 L488.96 419.88 L491.23 420.05 L493.50 420.20 L495.78 420.34 L498.05 420.48 L500.33 420.61 L502.60 420.73 L504.87 420.84 L507.15 420.95 L509.42 421.05 L511.70 421.14 L513.97 421.23 L516.24 421.31 L518.52 421.39 L520.79 421.47 L523.07 421.54 L525.34 421.60 L527.61 421.66 L529.89 421.72 L532.16 421.78 L534.44 421.83 L536.71 421.88 L538.98 421.92 L541.26 421.96 L543.53 422.00 L545.81 422.04 L548.08 422.08 L550.35 422.11 L552.63 422.14 L554.90 422.17 L557.18 422.20 L559.45 422.22 L561.72 422.25 L564.00 422.27 L566.27 422.29 L568.55 422.31 L570.82 422.32 L573.09 422.34 L575.37 422.36 L577.64 422.37 L579.92 422.38 L582.19 422.40 L584.46 422.41 L586.74 422.42 L589.01 422.43 L591.29 422.44 L593.56 422.45 L595.83 422.45 L598.11 422.46 L600.38 422.47 L602.66 422.47 L604.93 422.48 L607.20 422.48 L609.48 422.49 L611.75 422.49 L614.03 422.49 L616.30 422.50 L618.58 422.50 L620.85 422.50 L623.12 422.50 L625.40 422.50 L627.67 422.51 L629.95 422.51 L632.22 422.51 L634.49 422.51 L636.77 422.51 L639.04 422.51 L641.32 422.51 L643.59 422.51 L645.86 422.51 L648.14 422.51 L650.41 422.51 L652.69 422.51 L654.96 422.51 L657.23 422.51 L659.51 422.51 L661.78 422.50 L664.06 422.50 L666.33 422.50 L668.60 422.50 L670.88 422.50 L673.15 422.50 L675.43 422.50 L677.70 422.50" stroke="#f02828"/>
<path d="M378.60 459.40 L378.72 456.37 L378.84 453.78 L378.96 451.30 L379.08 448.89 L379.20 446.57 L379.32 444.39 L379.43 442.37 L379.55 440.53 L379.67 438.87 L379.79 437.39 L379.91 436.06 L380.03 434.88 L380.15 433.84 L380.27 432.91 L380.39 432.09 L380.51 431.35 L380.63 430.70 L380.75 430.12 L380.86 429.60 L380.98 429.13 L381.10 428.70 L381.22 428.32 L381.34 427.98 L381.46 427.66 L381.58 427.37 L381.70 427.11 L381.82 426.87 L381.94 426.65 L382.06 426.44 L382.18 426.25 L382.30 426.08 L382.41 425.91 L382.53 425.76 L382.65 425.62 L382.77 425.48 L382.89 425.36 L383.01 425.24 L383.13 425.13 L383.25 425.03 L383.37 424.93 L383.49 424.83 L383.61 424.75 L383.73 424.66 L383.85 424.58 L383.96 424.51 L384.08 424.44 L384.20 424.37 L384.32 424.31 L384.44 424.24 L384.56 424.19 L384.68 424.13 L384.80 424.08 L384.92 424.03 L385.04 423.98 L385.16 423.93 L385.28 423.89 L385.39 423.85 L385.51 423.81 L385.63 423.77 L385.75 423.73 L385.87 423.70 L385.99 423.66 L386.11 423.63 L386.23 423.60 L386.35 423.57 L386.47 423.55 L386.59 423.52 L386.71 423.49 L386.83 423.47 L386.94 423.44 L387.06 423.42 L387.18 423.40 L387.30 423.38 L387.42 423.36 L387.54 423.34 L387.66 423.32 L387.78 423.31 L387.90 423.29 L388.02 423.27 L388.14 423.26 L388.26 423.24 L388.37 423.23 L388.49 423.22 L388.61 423.20 L388.73 423.19 L388.85 423.18 L388.97 423.17 L389.09 423.16 L389.21 423.15 L389.33 423.14 L389.45 423.13 L389.57 423.12 L389.69 423.11 L389.81 423.10 L389.92 423.09 L390.04 423.08 L390.16 423.08 L390.28 423.07 L390.40 423.06 L390.52 423.05 L390.64 423.05 L390.76 423.04 L390.88 423.04 L391.00 423.03 L391.12 423.02 L391.24 423.02 L391.35 423.01 L391.47 423.01 L391.59 423.00 L391.71 423.00 L391.83 423.00 L391.95 422.99 L392.07 422.99 L392.19 422.98 L392.31 422.98 L392.43 422.98 L392.55 422.97 L392.67 422.97 L392.79 422.97 L392.90 422.96 L393.02 422.96 L393.14 422.96 L393.26 422.95 L393.38 422.95 L393.50 422.95 L393.62 422.95 L393.74 422.94 L393.86 422.94 L393.98 422.94 L394.10 422.94 L394.22 422.93 L394.34 422.93 L394.45 422.93 L394.57 422.93 L394.69 422.93 L394.81 422.92 L394.93 422.92 L395.05 422.92 L395.17 422.92 L395.29 422.92 L395.41 422.92 L395.53 422.91 L395.65 422.91 L395.77 422.91 L395.88 422.91 L396.00 422.91 L396.12 422.91 L396.24 422.91 L396.36 422.90 L396.48 422.90 L396.60 422.90 L396.72 422.90 L396.84 422.90 L396.96 422.90 L397.08 422.90 L397.20 422.89 L397.32 422.89 L397.43 422.89 L397.55 422.89 L397.67 422.89 L397.79 422.89 L397.91 422.89 L398.03 422.89 L398.15 422.89 L398.27 422.88 L398.39 422.88 L398.51 422.88 L398.63 422.88 L398.75 422.88 L398.86 422.88 L398.98 422.88 L399.10 422.88 L399.22 422.88 L399.34 422.88 L399.46 422.88 L399.58 422.87 L399.70 422.87 L399.82 422.87 L399.94 422.87 L400.06 422.87 L400.18 422.87 L400.30 422.87 L400.41 422.87 L400.53 422.87 L400.65 422.87 L400.77 422.87 L400.89 422.86 L401.01 422.86 L401.13 422.86 L401.25 422.86 L401.37 422.86 L401.49 422.86 L401.61 422.86 L401.73 422.86 L401.84 422.86 L401.96 422.86 L402.08 422.86 L402.20 422.86 L402.32 422.85 L402.44 422.85 L402.56 422.85 L402.68 422.85 L402.80 422.85 L402.92 422.85 L403.04 422.85 L403.16 422.85 L403.28 422.85 L403.39 422.85 L403.51 422.85 L403.63 422.85 L403.75 422.85 L403.87 422.84 L403.99 422.84 L404.11 422.84 L404.23 422.84 L404.35 422.84 L404.47 422.84 L404.59 422.84 L404.71 422.84 L404.83 422.84 L404.94 422.84 L405.06 422.84 L405.18 422.84 L405.30 422.84 L405.42 422.83 L405.54 422.83 L405.66 422.83 L405.78 422.83 L405.90 422.83 L406.02 422.83 L406.14 422.83 L406.26 422.83 L406.37 422.83 L406.49 422.83 L406.61 422.83 L406.73 422.83 L406.85 422.83 L406.97 422.83 L407.09 422.83 L409.36 422.81 L411.64 422.80 L413.91 422.79 L416.19 422.78 L418.46 422.77 L420.73 422.76 L423.01 422.76 L425.28 422.75 L427.56 422.74 L429.83 422.74 L432.10 422.73 L434.38 422.73 L436.65 422.72 L438.93 422.72 L441.20 422.71 L443.47 422.71 L445.75 422.70 L448.02 422.70 L450.30 422.69 L452.57 422.69 L454.84 422.69 L457.12 422.68 L459.39 422.68 L461.67 422.67 L463.94 422.67 L466.21 422.66 L468.49 422.66 L470.76 422.66 L473.04 422.65 L475.31 422.65 L477.59 422.64 L479.86 422.64 L482.13 422.64 L484.41 422.63 L486.68 422.63 L488.96 422.63 L491.23 422.62 L493.50 422.62 L495.78 422.61 L498.05 422.61 L500.33 422.61 L502.60 422.60 L504.87 422.60 L507.15 422.60 L509.42 422.59 L511.70 422.59 L513.97 422.59 L516.24 422.58 L518.52 422.58 L520.79 422.58 L523.07 422.58 L525.34 422.57 L527.61 422.57 L529.89 422.57 L532.16 422.57 L534.44 422.56 L536.71 422.56 L538.98 422.56 L541.26 422.56 L543.53 422.55 L545.81 422.55 L548.08 422.55 L550.35 422.55 L552.63 422.55 L554.90 422.54 L557.18 422.54 L559.45 422.54 L561.72 422.54 L564.00 422.54 L566.27 422.54 L568.55 422.53 L570.82 422.53 L573.09 422.53 L575.37 422.53 L577.64 422.53 L579.92 422.53 L582.19 422.53 L584.46 422.52 L586.74 422.52 L589.01 422.52 L591.29 422.52 L593.56 422.52 L595.83 422.52 L598.11 422.52 L600.38 422.52 L602.66 422.52 L604.93 422.51 L607.20 422.51 L609.48 422.51 L611.75 422.51 L614.03 422.51 L616.30 422.51 L618.58 422.51 L620.85 422.51 L623.12 422.51 L625.40 422.51 L627.67 422.51 L629.95 422.51 L632.22 422.51 L634.49 422.50 L636.77 422.50 L639.04 422.50 L641.32 422.50 L643.59 422.50 L645.86 422.50 L648.14 422.50 L650.41 422.50 L652.69 422.50 L654.96 422.50 L657.23 422.50 L659.51 422.50 L661.78 422.50 L664.06 422.50 L666.33 422.50 L668.60 422.50 L670.88 422.50 L673.15 422.50 L675.43 422.50 L677.70 422.50" stroke="#ff22ff"/>
<path d="M378.60 402.70 L378.72 404.04 L378.84 406.31 L378.96 408.86 L379.08 411.39 L379.20 413.77 L379.32 415.93 L379.43 417.86 L379.55 419.57 L379.67 421.09 L379.79 422.42 L379.91 423.60 L380.03 424.65 L380.15 425.57 L380.27 426.39 L380.39 427.11 L380.51 427.76 L380.63 428.35 L380.75 428.87 L380.86 429.34 L380.98 429.76 L381.10 430.14 L381.22 430.49 L381.34 430.80 L381.46 431.09 L381.58 431.35 L381.70 431.59 L381.82 431.81 L381.94 432.01 L382.06 432.20 L382.18 432.37 L382.30 432.53 L382.41 432.67 L382.53 432.81 L382.65 432.93 L382.77 433.05 L382.89 433.15 L383.01 433.25 L383.13 433.34 L383.25 433.43 L383.37 433.51 L383.49 433.58 L383.61 433.65 L383.73 433.71 L383.85 433.77 L383.96 433.82 L384.08 433.87 L384.20 433.92 L384.32 433.96 L384.44 434.00 L384.56 434.03 L384.68 434.06 L384.80 434.09 L384.92 434.12 L385.04 434.15 L385.16 434.17 L385.28 434.19 L385.39 434.21 L385.51 434.22 L385.63 434.24 L385.75 434.25 L385.87 434.26 L385.99 434.27 L386.11 434.28 L386.23 434.28 L386.35 434.29 L386.47 434.29 L386.59 434.29 L386.71 434.29 L386.83 434.29 L386.94 434.29 L387.06 434.29 L387.18 434.28 L387.30 434.28 L387.42 434.27 L387.54 434.27 L387.66 434.26 L387.78 434.25 L387.90 434.24 L388.02 434.23 L388.14 434.22 L388.26 434.21 L388.37 434.20 L388.49 434.19 L388.61 434.18 L388.73 434.16 L388.85 434.15 L388.97 434.14 L389.09 434.12 L389.21 434.11 L389.33 434.09 L389.45 434.07 L389.57 434.06 L389.69 434.04 L389.81 434.02 L389.92 434.01 L390.04 433.99 L390.16 433.97 L390.28 433.95 L390.40 433.93 L390.52 433.91 L390.64 433.89 L390.76 433.87 L390.88 433.85 L391.00 433.83 L391.12 433.81 L391.24 433.79 L391.35 433.77 L391.47 433.75 L391.59 433.73 L391.71 433.71 L391.83 433.69 L391.95 433.67 L392.07 433.64 L392.19 433.62 L392.31 433.60 L392.43 433.58 L392.55 433.56 L392.67 433.53 L392.79 433.51 L392.90 433.49 L393.02 433.47 L393.14 433.44 L393.26 433.42 L393.38 433.40 L393.50 433.37 L393.62 433.35 L393.74 433.33 L393.86 433.30 L393.98 433.28 L394.10 433.26 L394.22 433.23 L394.34 433.21 L394.45 433.19 L394.57 433.16 L394.69 433.14 L394.81 433.11 L394.93 433.09 L395.05 433.07 L395.17 433.04 L395.29 433.02 L395.41 432.99 L395.53 432.97 L395.65 432.95 L395.77 432.92 L395.88 432.90 L396.00 432.87 L396.12 432.85 L396.24 432.82 L396.36 432.80 L396.48 432.78 L396.60 432.75 L396.72 432.73 L396.84 432.70 L396.96 432.68 L397.08 432.65 L397.20 432.63 L397.32 432.61 L397.43 432.58 L397.55 432.56 L397.67 432.53 L397.79 432.51 L397.91 432.49 L398.03 432.46 L398.15 432.44 L398.27 432.41 L398.39 432.39 L398.51 432.36 L398.63 432.34 L398.75 432.32 L398.86 432.29 L398.98 432.27 L399.10 432.24 L399.22 432.22 L399.34 432.20 L399.46 432.17 L399.58 432.15 L399.70 432.12 L399.82 432.10 L399.94 432.08 L400.06 432.05 L400.18 432.03 L400.30 432.00 L400.41 431.98 L400.53 431.96 L400.65 431.93 L400.77 431.91 L400.89 431.89 L401.01 431.86 L401.13 431.84 L401.25 431.82 L401.37 431.79 L401.49 431.77 L401.61 431.75 L401.73 431.72 L401.84 431.70 L401.96 431.68 L402.08 431.65 L402.20 431.63 L402.32 431.61 L402.44 431.58 L402.56 431.56 L402.68 431.54 L402.80 431.51 L402.92 431.49 L403.04 431.47 L403.16 431.44 L403.28 431.42 L403.39 431.40 L403.51 431.38 L403.63 431.35 L403.75 431.33 L403.87 431.31 L403.99 431.29 L404.11 431.26 L404.23 431.24 L404.35 431.22 L404.47 431.20 L404.59 431.17 L404.71 431.15 L404.83 431.13 L404.94 431.11 L405.06 431.08 L405.18 431.06 L405.30 431.04 L405.42 431.02 L405.54 431.00 L405.66 430.97 L405.78 430.95 L405.90 430.93 L406.02 430.91 L406.14 430.89 L406.26 430.87 L406.37 430.84 L406.49 430.82 L406.61 430.80 L406.73 430.78 L406.85 430.76 L406.97 430.74 L407.09 430.72 L409.36 430.32 L411.64 429.94 L413.91 429.58 L416.19 429.24 L418.46 428.92 L420.73 428.61 L423.01 428.32 L425.28 428.05 L427.56 427.79 L429.83 427.55 L432.10 427.31 L434.38 427.09 L436.65 426.88 L438.93 426.69 L441.20 426.50 L443.47 426.32 L445.75 426.14 L448.02 425.98 L450.30 425.82 L452.57 425.68 L454.84 425.53 L457.12 425.40 L459.39 425.27 L461.67 425.14 L463.94 425.02 L466.21 424.91 L468.49 424.80 L470.76 424.70 L473.04 424.60 L475.31 424.50 L477.59 424.41 L479.86 424.32 L482.13 424.23 L484.41 424.15 L486.68 424.07 L488.96 424.00 L491.23 423.93 L493.50 423.86 L495.78 423.79 L498.05 423.73 L500.33 423.67 L502.60 423.61 L504.87 423.55 L507.15 423.50 L509.42 423.45 L511.70 423.40 L513.97 423.35 L516.24 423.30 L518.52 423.26 L520.79 423.22 L523.07 423.18 L525.34 423.14 L527.61 423.10 L529.89 423.07 L532.16 423.04 L534.44 423.00 L536.71 422.97 L538.98 422.94 L541.26 422.92 L543.53 422.89 L545.81 422.87 L548.08 422.84 L550.35 422.82 L552.63 422.80 L554.90 422.78 L557.18 422.76 L559.45 422.74 L561.72 422.72 L564.00 422.70 L566.27 422.69 L568.55 422.67 L570.82 422.66 L573.09 422.64 L575.37 422.63 L577.64 422.62 L579.92 422.61 L582.19 422.60 L584.46 422.59 L586.74 422.58 L589.01 422.57 L591.29 422.56 L593.56 422.55 L595.83 422.55 L598.11 422.54 L600.38 422.53 L602.66 422.53 L604.93 422.52 L607.20 422.52 L609.48 422.51 L611.75 422.51 L614.03 422.50 L616.30 422.50 L618.58 422.50 L620.85 422.49 L623.12 422.49 L625.40 422.49 L627.67 422.49 L629.95 422.49 L632.22 422.48 L634.49 422.48 L636.77 422.48 L639.04 422.48 L641.32 422.48 L643.59 422.48 L645.86 422.48 L648.14 422.48 L650.41 422.48 L652.69 422.48 L654.96 422.48 L657.23 422.48 L659.51 422.48 L661.78 422.48 L664.06 422.48 L666.33 422.48 L668.60 422.49 L670.88 422.49 L673.15 422.49 L675.43 422.49 L677.70 422.49" stroke="#2e2eef"/>
</g>
<rect x="372.2" y="288" width="311.3" height="180.2" fill="none" stroke="#939393" stroke-width="1.3"/>
<text x="377.9" y="480" text-anchor="middle" class="tl">0</text>
<text x="449.13" y="480" text-anchor="middle" class="tl">50</text>
<text x="520.35" y="480" text-anchor="middle" class="tl">100</text>
<text x="591.58" y="480" text-anchor="middle" class="tl">150</text>
<text x="662.8" y="480" text-anchor="middle" class="tl">200</text>
<text x="368.15" y="462.4" text-anchor="end" class="tl">0</text>
<text x="368.15" y="434.07" text-anchor="end" class="tl">5</text>
<text x="368.15" y="405.73" text-anchor="end" class="tl">10</text>
<text x="368.15" y="377.4" text-anchor="end" class="tl">15</text>
<text x="368.15" y="349.07" text-anchor="end" class="tl">20</text>
<text x="368.15" y="320.73" text-anchor="end" class="tl">25</text>
<text x="368.15" y="292.4" text-anchor="end" class="tl">30</text>
<text x="527.85" y="495.5" text-anchor="middle" class="xl" textLength="42.6" lengthAdjust="spacingAndGlyphs">time (days)</text>
<text transform="translate(351.1 376.95) rotate(-90)" text-anchor="middle" class="yl" textLength="84.1" lengthAdjust="spacingAndGlyphs">No. of infective people</text>
<line x1="616.1" y1="350.3" x2="632.9" y2="350.3" stroke="#f02828" stroke-width="1.8"/>
<text x="639.5" y="353.9" class="lg" textLength="35.9" lengthAdjust="spacingAndGlyphs">I(0)=15</text>
<line x1="616.1" y1="377.2" x2="632.9" y2="377.2" stroke="#ff22ff" stroke-width="1.8"/>
<text x="639.5" y="380.8" class="lg" textLength="35.9" lengthAdjust="spacingAndGlyphs">I(0)=00</text>
<line x1="616.1" y1="404.1" x2="632.9" y2="404.1" stroke="#2e2eef" stroke-width="1.8"/>
<text x="639.5" y="407.7" class="lg" textLength="35.9" lengthAdjust="spacingAndGlyphs">I(0)=10</text>
<text x="437.5" y="518.7" class="cap" textLength="152.2" lengthAdjust="spacingAndGlyphs">(d) Infectious population</text>
<clipPath id="ce"><rect x="29.6" y="568.4" width="311.4" height="183.3"/></clipPath>
<line x1="36.4" y1="568.4" x2="36.4" y2="751.7" stroke="#d4d4d4" stroke-width="1"/>
<line x1="29.6" y1="743.1" x2="341" y2="743.1" stroke="#d4d4d4" stroke-width="1"/>
<path d="M36.4 751.7v-4.5 M36.4 568.4v4.5 M50.64 751.7v-2.6 M50.64 568.4v2.6 M64.88 751.7v-2.6 M64.88 568.4v2.6 M79.12 751.7v-2.6 M79.12 568.4v2.6 M93.36 751.7v-2.6 M93.36 568.4v2.6 M107.6 751.7v-4.5 M107.6 568.4v4.5 M121.84 751.7v-2.6 M121.84 568.4v2.6 M136.08 751.7v-2.6 M136.08 568.4v2.6 M150.32 751.7v-2.6 M150.32 568.4v2.6 M164.56 751.7v-2.6 M164.56 568.4v2.6 M178.8 751.7v-4.5 M178.8 568.4v4.5 M193.04 751.7v-2.6 M193.04 568.4v2.6 M207.28 751.7v-2.6 M207.28 568.4v2.6 M221.52 751.7v-2.6 M221.52 568.4v2.6 M235.76 751.7v-2.6 M235.76 568.4v2.6 M250 751.7v-4.5 M250 568.4v4.5 M264.24 751.7v-2.6 M264.24 568.4v2.6 M278.48 751.7v-2.6 M278.48 568.4v2.6 M292.72 751.7v-2.6 M292.72 568.4v2.6 M306.96 751.7v-2.6 M306.96 568.4v2.6 M321.2 751.7v-4.5 M321.2 568.4v4.5 M335.44 751.7v-2.6 M335.44 568.4v2.6 M29.6 751.34h2.6 M341 751.34h-2.6 M29.6 743.1h4.5 M341 743.1h-4.5 M29.6 734.87h2.6 M341 734.87h-2.6 M29.6 726.63h2.6 M341 726.63h-2.6 M29.6 718.39h2.6 M341 718.39h-2.6 M29.6 710.16h4.5 M341 710.16h-4.5 M29.6 701.92h2.6 M341 701.92h-2.6 M29.6 693.69h2.6 M341 693.69h-2.6 M29.6 685.46h2.6 M341 685.46h-2.6 M29.6 677.22h4.5 M341 677.22h-4.5 M29.6 668.99h2.6 M341 668.99h-2.6 M29.6 660.75h2.6 M341 660.75h-2.6 M29.6 652.51h2.6 M341 652.51h-2.6 M29.6 644.28h4.5 M341 644.28h-4.5 M29.6 636.04h2.6 M341 636.04h-2.6 M29.6 627.81h2.6 M341 627.81h-2.6 M29.6 619.57h2.6 M341 619.57h-2.6 M29.6 611.34h4.5 M341 611.34h-4.5 M29.6 603.11h2.6 M341 603.11h-2.6 M29.6 594.87h2.6 M341 594.87h-2.6 M29.6 586.63h2.6 M341 586.63h-2.6 M29.6 578.4h4.5 M341 578.4h-4.5 M29.6 570.16h2.6 M341 570.16h-2.6" stroke="#5e5e5e" stroke-width="1" fill="none"/>
<g clip-path="url(#ce)" fill="none" stroke-width="1.9" stroke-linejoin="round" stroke-linecap="butt">
<path d="M36.40 677.20 L36.52 675.42 L36.64 673.91 L36.76 672.63 L36.88 671.54 L37.00 670.60 L37.11 669.79 L37.23 669.06 L37.35 668.41 L37.47 667.81 L37.59 667.25 L37.71 666.71 L37.83 666.19 L37.95 665.66 L38.07 665.14 L38.19 664.61 L38.31 664.06 L38.43 663.50 L38.54 662.92 L38.66 662.32 L38.78 661.70 L38.90 661.06 L39.02 660.40 L39.14 659.73 L39.26 659.03 L39.38 658.33 L39.50 657.61 L39.62 656.88 L39.74 656.14 L39.86 655.39 L39.97 654.64 L40.09 653.88 L40.21 653.12 L40.33 652.37 L40.45 651.62 L40.57 650.87 L40.69 650.13 L40.81 649.40 L40.93 648.68 L41.05 647.97 L41.17 647.27 L41.29 646.59 L41.40 645.93 L41.52 645.28 L41.64 644.65 L41.76 644.04 L41.88 643.45 L42.00 642.89 L42.12 642.34 L42.24 641.82 L42.36 641.32 L42.48 640.84 L42.60 640.39 L42.72 639.96 L42.83 639.55 L42.95 639.17 L43.07 638.81 L43.19 638.48 L43.31 638.17 L43.43 637.88 L43.55 637.62 L43.67 637.39 L43.79 637.17 L43.91 636.98 L44.03 636.82 L44.15 636.67 L44.26 636.55 L44.38 636.45 L44.50 636.37 L44.62 636.32 L44.74 636.28 L44.86 636.27 L44.98 636.27 L45.10 636.29 L45.22 636.34 L45.34 636.40 L45.46 636.48 L45.58 636.57 L45.69 636.69 L45.81 636.82 L45.93 636.96 L46.05 637.12 L46.17 637.30 L46.29 637.49 L46.41 637.69 L46.53 637.91 L46.65 638.14 L46.77 638.38 L46.89 638.64 L47.01 638.90 L47.12 639.18 L47.24 639.47 L47.36 639.76 L47.48 640.07 L47.60 640.39 L47.72 640.71 L47.84 641.05 L47.96 641.39 L48.08 641.73 L48.20 642.09 L48.32 642.45 L48.44 642.82 L48.55 643.19 L48.67 643.57 L48.79 643.96 L48.91 644.35 L49.03 644.74 L49.15 645.14 L49.27 645.54 L49.39 645.95 L49.51 646.36 L49.63 646.77 L49.75 647.19 L49.87 647.61 L49.98 648.03 L50.10 648.45 L50.22 648.87 L50.34 649.30 L50.46 649.72 L50.58 650.15 L50.70 650.58 L50.82 651.01 L50.94 651.44 L51.06 651.87 L51.18 652.30 L51.30 652.73 L51.41 653.16 L51.53 653.59 L51.65 654.02 L51.77 654.45 L51.89 654.88 L52.01 655.30 L52.13 655.73 L52.25 656.15 L52.37 656.58 L52.49 657.00 L52.61 657.42 L52.73 657.84 L52.84 658.25 L52.96 658.67 L53.08 659.08 L53.20 659.49 L53.32 659.90 L53.44 660.31 L53.56 660.72 L53.68 661.12 L53.80 661.52 L53.92 661.92 L54.04 662.31 L54.16 662.71 L54.27 663.10 L54.39 663.49 L54.51 663.87 L54.63 664.25 L54.75 664.63 L54.87 665.01 L54.99 665.39 L55.11 665.76 L55.23 666.13 L55.35 666.49 L55.47 666.86 L55.59 667.22 L55.70 667.58 L55.82 667.93 L55.94 668.28 L56.06 668.63 L56.18 668.98 L56.30 669.32 L56.42 669.66 L56.54 670.00 L56.66 670.34 L56.78 670.67 L56.90 671.00 L57.02 671.32 L57.13 671.65 L57.25 671.97 L57.37 672.28 L57.49 672.60 L57.61 672.91 L57.73 673.22 L57.85 673.53 L57.97 673.83 L58.09 674.13 L58.21 674.43 L58.33 674.72 L58.45 675.01 L58.56 675.30 L58.68 675.59 L58.80 675.87 L58.92 676.15 L59.04 676.43 L59.16 676.70 L59.28 676.98 L59.40 677.25 L59.52 677.51 L59.64 677.78 L59.76 678.04 L59.88 678.30 L59.99 678.56 L60.11 678.81 L60.23 679.06 L60.35 679.31 L60.47 679.56 L60.59 679.80 L60.71 680.04 L60.83 680.28 L60.95 680.52 L61.07 680.75 L61.19 680.99 L61.31 681.22 L61.42 681.44 L61.54 681.67 L61.66 681.89 L61.78 682.11 L61.90 682.33 L62.02 682.55 L62.14 682.76 L62.26 682.97 L62.38 683.18 L62.50 683.39 L62.62 683.60 L62.74 683.80 L62.85 684.00 L62.97 684.20 L63.09 684.40 L63.21 684.59 L63.33 684.79 L63.45 684.98 L63.57 685.17 L63.69 685.36 L63.81 685.54 L63.93 685.73 L64.05 685.91 L64.17 686.09 L64.28 686.27 L64.40 686.45 L64.52 686.62 L64.64 686.80 L64.76 686.97 L64.88 687.14 L67.15 690.09 L69.43 692.56 L71.70 694.66 L73.97 696.47 L76.25 698.04 L78.52 699.44 L80.79 700.69 L83.07 701.82 L85.34 702.86 L87.61 703.81 L89.89 704.68 L92.16 705.50 L94.43 706.26 L96.71 706.96 L98.98 707.62 L101.25 708.24 L103.53 708.81 L105.80 709.35 L108.07 709.85 L110.35 710.32 L112.62 710.75 L114.89 711.16 L117.17 711.54 L119.44 711.89 L121.71 712.22 L123.99 712.52 L126.26 712.80 L128.53 713.07 L130.81 713.31 L133.08 713.53 L135.35 713.74 L137.62 713.94 L139.90 714.12 L142.17 714.28 L144.44 714.43 L146.72 714.57 L148.99 714.71 L151.26 714.83 L153.54 714.94 L155.81 715.04 L158.08 715.13 L160.36 715.22 L162.63 715.30 L164.90 715.38 L167.18 715.44 L169.45 715.51 L171.72 715.56 L174.00 715.62 L176.27 715.67 L178.54 715.71 L180.82 715.75 L183.09 715.79 L185.36 715.83 L187.64 715.86 L189.91 715.89 L192.18 715.92 L194.46 715.94 L196.73 715.96 L199.00 715.98 L201.28 716.00 L203.55 716.02 L205.82 716.04 L208.10 716.05 L210.37 716.07 L212.64 716.08 L214.92 716.09 L217.19 716.10 L219.46 716.11 L221.74 716.12 L224.01 716.13 L226.28 716.13 L228.56 716.14 L230.83 716.15 L233.10 716.15 L235.38 716.16 L237.65 716.16 L239.92 716.17 L242.20 716.17 L244.47 716.17 L246.74 716.18 L249.02 716.18 L251.29 716.18 L253.56 716.18 L255.84 716.19 L258.11 716.19 L260.38 716.19 L262.66 716.19 L264.93 716.19 L267.20 716.19 L269.47 716.20 L271.75 716.20 L274.02 716.20 L276.29 716.20 L278.57 716.20 L280.84 716.20 L283.11 716.20 L285.39 716.20 L287.66 716.20 L289.93 716.20 L292.21 716.20 L294.48 716.20 L296.75 716.20 L299.03 716.20 L301.30 716.20 L303.57 716.20 L305.85 716.20 L308.12 716.20 L310.39 716.20 L312.67 716.20 L314.94 716.20 L317.21 716.20 L319.49 716.20 L321.76 716.20 L324.03 716.20 L326.31 716.20 L328.58 716.20 L330.85 716.20 L333.13 716.20 L335.40 716.20" stroke="#f02828"/>
<path d="M36.40 578.40 L36.52 584.45 L36.64 590.09 L36.76 595.37 L36.88 600.32 L37.00 605.02 L37.11 609.50 L37.23 613.79 L37.35 617.91 L37.47 621.88 L37.59 625.70 L37.71 629.38 L37.83 632.92 L37.95 636.33 L38.07 639.62 L38.19 642.77 L38.31 645.81 L38.43 648.72 L38.54 651.51 L38.66 654.19 L38.78 656.76 L38.90 659.22 L39.02 661.58 L39.14 663.83 L39.26 665.99 L39.38 668.05 L39.50 670.03 L39.62 671.92 L39.74 673.72 L39.86 675.45 L39.97 677.10 L40.09 678.68 L40.21 680.18 L40.33 681.63 L40.45 683.00 L40.57 684.32 L40.69 685.58 L40.81 686.78 L40.93 687.93 L41.05 689.03 L41.17 690.08 L41.29 691.09 L41.40 692.05 L41.52 692.97 L41.64 693.85 L41.76 694.70 L41.88 695.50 L42.00 696.27 L42.12 697.01 L42.24 697.72 L42.36 698.40 L42.48 699.05 L42.60 699.67 L42.72 700.26 L42.83 700.83 L42.95 701.38 L43.07 701.90 L43.19 702.41 L43.31 702.89 L43.43 703.35 L43.55 703.79 L43.67 704.22 L43.79 704.63 L43.91 705.02 L44.03 705.39 L44.15 705.76 L44.26 706.10 L44.38 706.44 L44.50 706.76 L44.62 707.06 L44.74 707.36 L44.86 707.64 L44.98 707.92 L45.10 708.18 L45.22 708.43 L45.34 708.68 L45.46 708.91 L45.58 709.14 L45.69 709.35 L45.81 709.56 L45.93 709.76 L46.05 709.96 L46.17 710.14 L46.29 710.32 L46.41 710.50 L46.53 710.66 L46.65 710.83 L46.77 710.98 L46.89 711.13 L47.01 711.28 L47.12 711.42 L47.24 711.55 L47.36 711.68 L47.48 711.81 L47.60 711.93 L47.72 712.05 L47.84 712.16 L47.96 712.27 L48.08 712.38 L48.20 712.48 L48.32 712.58 L48.44 712.67 L48.55 712.77 L48.67 712.86 L48.79 712.94 L48.91 713.03 L49.03 713.11 L49.15 713.19 L49.27 713.26 L49.39 713.34 L49.51 713.41 L49.63 713.48 L49.75 713.55 L49.87 713.61 L49.98 713.67 L50.10 713.74 L50.22 713.80 L50.34 713.85 L50.46 713.91 L50.58 713.96 L50.70 714.02 L50.82 714.07 L50.94 714.12 L51.06 714.17 L51.18 714.21 L51.30 714.26 L51.41 714.30 L51.53 714.35 L51.65 714.39 L51.77 714.43 L51.89 714.47 L52.01 714.51 L52.13 714.54 L52.25 714.58 L52.37 714.62 L52.49 714.65 L52.61 714.68 L52.73 714.72 L52.84 714.75 L52.96 714.78 L53.08 714.81 L53.20 714.84 L53.32 714.87 L53.44 714.90 L53.56 714.92 L53.68 714.95 L53.80 714.98 L53.92 715.00 L54.04 715.03 L54.16 715.05 L54.27 715.07 L54.39 715.10 L54.51 715.12 L54.63 715.14 L54.75 715.16 L54.87 715.18 L54.99 715.20 L55.11 715.22 L55.23 715.24 L55.35 715.26 L55.47 715.28 L55.59 715.30 L55.70 715.32 L55.82 715.33 L55.94 715.35 L56.06 715.37 L56.18 715.38 L56.30 715.40 L56.42 715.41 L56.54 715.43 L56.66 715.44 L56.78 715.46 L56.90 715.47 L57.02 715.49 L57.13 715.50 L57.25 715.51 L57.37 715.53 L57.49 715.54 L57.61 715.55 L57.73 715.56 L57.85 715.57 L57.97 715.59 L58.09 715.60 L58.21 715.61 L58.33 715.62 L58.45 715.63 L58.56 715.64 L58.68 715.65 L58.80 715.66 L58.92 715.67 L59.04 715.68 L59.16 715.69 L59.28 715.70 L59.40 715.71 L59.52 715.72 L59.64 715.73 L59.76 715.73 L59.88 715.74 L59.99 715.75 L60.11 715.76 L60.23 715.77 L60.35 715.77 L60.47 715.78 L60.59 715.79 L60.71 715.80 L60.83 715.80 L60.95 715.81 L61.07 715.82 L61.19 715.82 L61.31 715.83 L61.42 715.84 L61.54 715.84 L61.66 715.85 L61.78 715.86 L61.90 715.86 L62.02 715.87 L62.14 715.87 L62.26 715.88 L62.38 715.89 L62.50 715.89 L62.62 715.90 L62.74 715.90 L62.85 715.91 L62.97 715.91 L63.09 715.92 L63.21 715.92 L63.33 715.93 L63.45 715.93 L63.57 715.94 L63.69 715.94 L63.81 715.95 L63.93 715.95 L64.05 715.95 L64.17 715.96 L64.28 715.96 L64.40 715.97 L64.52 715.97 L64.64 715.97 L64.76 715.98 L64.88 715.98 L67.15 716.04 L69.43 716.09 L71.70 716.12 L73.97 716.14 L76.25 716.16 L78.52 716.17 L80.79 716.17 L83.07 716.18 L85.34 716.18 L87.61 716.19 L89.89 716.19 L92.16 716.19 L94.43 716.19 L96.71 716.19 L98.98 716.19 L101.25 716.19 L103.53 716.19 L105.80 716.19 L108.07 716.19 L110.35 716.19 L112.62 716.19 L114.89 716.19 L117.17 716.19 L119.44 716.19 L121.71 716.19 L123.99 716.19 L126.26 716.19 L128.53 716.19 L130.81 716.20 L133.08 716.20 L135.35 716.20 L137.62 716.20 L139.90 716.20 L142.17 716.20 L144.44 716.20 L146.72 716.20 L148.99 716.20 L151.26 716.20 L153.54 716.20 L155.81 716.20 L158.08 716.20 L160.36 716.20 L162.63 716.20 L164.90 716.20 L167.18 716.20 L169.45 716.20 L171.72 716.20 L174.00 716.20 L176.27 716.20 L178.54 716.20 L180.82 716.20 L183.09 716.20 L185.36 716.20 L187.64 716.20 L189.91 716.20 L192.18 716.20 L194.46 716.20 L196.73 716.20 L199.00 716.20 L201.28 716.20 L203.55 716.20 L205.82 716.20 L208.10 716.20 L210.37 716.20 L212.64 716.20 L214.92 716.20 L217.19 716.20 L219.46 716.20 L221.74 716.20 L224.01 716.20 L226.28 716.20 L228.56 716.20 L230.83 716.20 L233.10 716.20 L235.38 716.20 L237.65 716.20 L239.92 716.20 L242.20 716.20 L244.47 716.20 L246.74 716.20 L249.02 716.20 L251.29 716.20 L253.56 716.20 L255.84 716.20 L258.11 716.20 L260.38 716.20 L262.66 716.20 L264.93 716.20 L267.20 716.20 L269.47 716.20 L271.75 716.20 L274.02 716.20 L276.29 716.20 L278.57 716.20 L280.84 716.20 L283.11 716.20 L285.39 716.20 L287.66 716.20 L289.93 716.20 L292.21 716.20 L294.48 716.20 L296.75 716.20 L299.03 716.20 L301.30 716.20 L303.57 716.20 L305.85 716.20 L308.12 716.20 L310.39 716.20 L312.67 716.20 L314.94 716.20 L317.21 716.20 L319.49 716.20 L321.76 716.20 L324.03 716.20 L326.31 716.20 L328.58 716.20 L330.85 716.20 L333.13 716.20 L335.40 716.20" stroke="#ff22ff"/>
<path d="M36.40 743.10 L36.52 741.85 L36.64 740.04 L36.76 738.21 L36.88 736.56 L37.00 735.16 L37.11 733.99 L37.23 733.03 L37.35 732.23 L37.47 731.57 L37.59 731.01 L37.71 730.54 L37.83 730.13 L37.95 729.77 L38.07 729.45 L38.19 729.17 L38.31 728.91 L38.43 728.67 L38.54 728.44 L38.66 728.24 L38.78 728.04 L38.90 727.85 L39.02 727.68 L39.14 727.51 L39.26 727.35 L39.38 727.20 L39.50 727.05 L39.62 726.91 L39.74 726.78 L39.86 726.65 L39.97 726.53 L40.09 726.41 L40.21 726.30 L40.33 726.20 L40.45 726.10 L40.57 726.01 L40.69 725.92 L40.81 725.83 L40.93 725.75 L41.05 725.67 L41.17 725.60 L41.29 725.53 L41.40 725.47 L41.52 725.41 L41.64 725.35 L41.76 725.29 L41.88 725.24 L42.00 725.19 L42.12 725.15 L42.24 725.11 L42.36 725.07 L42.48 725.03 L42.60 724.99 L42.72 724.96 L42.83 724.93 L42.95 724.90 L43.07 724.87 L43.19 724.84 L43.31 724.82 L43.43 724.80 L43.55 724.77 L43.67 724.75 L43.79 724.74 L43.91 724.72 L44.03 724.70 L44.15 724.68 L44.26 724.67 L44.38 724.65 L44.50 724.64 L44.62 724.63 L44.74 724.61 L44.86 724.60 L44.98 724.59 L45.10 724.58 L45.22 724.57 L45.34 724.56 L45.46 724.55 L45.58 724.54 L45.69 724.53 L45.81 724.52 L45.93 724.51 L46.05 724.50 L46.17 724.49 L46.29 724.48 L46.41 724.48 L46.53 724.47 L46.65 724.46 L46.77 724.45 L46.89 724.44 L47.01 724.43 L47.12 724.42 L47.24 724.41 L47.36 724.41 L47.48 724.40 L47.60 724.39 L47.72 724.38 L47.84 724.37 L47.96 724.36 L48.08 724.35 L48.20 724.34 L48.32 724.33 L48.44 724.32 L48.55 724.31 L48.67 724.30 L48.79 724.29 L48.91 724.28 L49.03 724.27 L49.15 724.26 L49.27 724.24 L49.39 724.23 L49.51 724.22 L49.63 724.21 L49.75 724.20 L49.87 724.19 L49.98 724.17 L50.10 724.16 L50.22 724.15 L50.34 724.14 L50.46 724.12 L50.58 724.11 L50.70 724.10 L50.82 724.08 L50.94 724.07 L51.06 724.06 L51.18 724.04 L51.30 724.03 L51.41 724.02 L51.53 724.00 L51.65 723.99 L51.77 723.97 L51.89 723.96 L52.01 723.94 L52.13 723.93 L52.25 723.91 L52.37 723.90 L52.49 723.88 L52.61 723.87 L52.73 723.85 L52.84 723.84 L52.96 723.82 L53.08 723.81 L53.20 723.79 L53.32 723.78 L53.44 723.76 L53.56 723.75 L53.68 723.73 L53.80 723.71 L53.92 723.70 L54.04 723.68 L54.16 723.67 L54.27 723.65 L54.39 723.63 L54.51 723.62 L54.63 723.60 L54.75 723.59 L54.87 723.57 L54.99 723.55 L55.11 723.54 L55.23 723.52 L55.35 723.50 L55.47 723.49 L55.59 723.47 L55.70 723.45 L55.82 723.44 L55.94 723.42 L56.06 723.41 L56.18 723.39 L56.30 723.37 L56.42 723.36 L56.54 723.34 L56.66 723.32 L56.78 723.31 L56.90 723.29 L57.02 723.27 L57.13 723.26 L57.25 723.24 L57.37 723.22 L57.49 723.21 L57.61 723.19 L57.73 723.18 L57.85 723.16 L57.97 723.14 L58.09 723.13 L58.21 723.11 L58.33 723.09 L58.45 723.08 L58.56 723.06 L58.68 723.05 L58.80 723.03 L58.92 723.01 L59.04 723.00 L59.16 722.98 L59.28 722.97 L59.40 722.95 L59.52 722.93 L59.64 722.92 L59.76 722.90 L59.88 722.89 L59.99 722.87 L60.11 722.86 L60.23 722.84 L60.35 722.83 L60.47 722.81 L60.59 722.79 L60.71 722.78 L60.83 722.76 L60.95 722.75 L61.07 722.73 L61.19 722.72 L61.31 722.70 L61.42 722.69 L61.54 722.67 L61.66 722.66 L61.78 722.64 L61.90 722.63 L62.02 722.61 L62.14 722.60 L62.26 722.59 L62.38 722.57 L62.50 722.56 L62.62 722.54 L62.74 722.53 L62.85 722.51 L62.97 722.50 L63.09 722.48 L63.21 722.47 L63.33 722.46 L63.45 722.44 L63.57 722.43 L63.69 722.41 L63.81 722.40 L63.93 722.39 L64.05 722.37 L64.17 722.36 L64.28 722.35 L64.40 722.33 L64.52 722.32 L64.64 722.30 L64.76 722.29 L64.88 722.28 L67.15 722.03 L69.43 721.81 L71.70 721.60 L73.97 721.40 L76.25 721.22 L78.52 721.05 L80.79 720.88 L83.07 720.72 L85.34 720.56 L87.61 720.41 L89.89 720.26 L92.16 720.12 L94.43 719.97 L96.71 719.83 L98.98 719.69 L101.25 719.56 L103.53 719.42 L105.80 719.29 L108.07 719.16 L110.35 719.03 L112.62 718.91 L114.89 718.78 L117.17 718.67 L119.44 718.55 L121.71 718.44 L123.99 718.33 L126.26 718.22 L128.53 718.12 L130.81 718.02 L133.08 717.92 L135.35 717.83 L137.62 717.74 L139.90 717.65 L142.17 717.57 L144.44 717.49 L146.72 717.41 L148.99 717.34 L151.26 717.26 L153.54 717.20 L155.81 717.13 L158.08 717.07 L160.36 717.01 L162.63 716.96 L164.90 716.90 L167.18 716.85 L169.45 716.80 L171.72 716.76 L174.00 716.71 L176.27 716.67 L178.54 716.64 L180.82 716.60 L183.09 716.56 L185.36 716.53 L187.64 716.50 L189.91 716.47 L192.18 716.44 L194.46 716.42 L196.73 716.39 L199.00 716.37 L201.28 716.35 L203.55 716.33 L205.82 716.31 L208.10 716.30 L210.37 716.28 L212.64 716.27 L214.92 716.25 L217.19 716.24 L219.46 716.23 L221.74 716.22 L224.01 716.21 L226.28 716.20 L228.56 716.19 L230.83 716.19 L233.10 716.18 L235.38 716.18 L237.65 716.17 L239.92 716.17 L242.20 716.16 L244.47 716.16 L246.74 716.16 L249.02 716.16 L251.29 716.15 L253.56 716.15 L255.84 716.15 L258.11 716.15 L260.38 716.15 L262.66 716.15 L264.93 716.15 L267.20 716.15 L269.47 716.15 L271.75 716.16 L274.02 716.16 L276.29 716.16 L278.57 716.16 L280.84 716.16 L283.11 716.17 L285.39 716.17 L287.66 716.17 L289.93 716.17 L292.21 716.18 L294.48 716.18 L296.75 716.18 L299.03 716.19 L301.30 716.19 L303.57 716.19 L305.85 716.20 L308.12 716.20 L310.39 716.20 L312.67 716.21 L314.94 716.21 L317.21 716.21 L319.49 716.22 L321.76 716.22 L324.03 716.22 L326.31 716.23 L328.58 716.23 L330.85 716.23 L333.13 716.24 L335.40 716.24" stroke="#2e2eef"/>
</g>
<rect x="29.6" y="568.4" width="311.4" height="183.3" fill="none" stroke="#939393" stroke-width="1.3"/>
<text x="35.7" y="762.5" text-anchor="middle" class="tl">0</text>
<text x="106.9" y="762.5" text-anchor="middle" class="tl">50</text>
<text x="178.1" y="762.5" text-anchor="middle" class="tl">100</text>
<text x="249.3" y="762.5" text-anchor="middle" class="tl">150</text>
<text x="320.5" y="762.5" text-anchor="middle" class="tl">200</text>
<text x="25.75" y="746.1" text-anchor="end" class="tl">0</text>
<text x="25.75" y="713.16" text-anchor="end" class="tl">2</text>
<text x="25.75" y="680.22" text-anchor="end" class="tl">4</text>
<text x="25.75" y="647.28" text-anchor="end" class="tl">6</text>
<text x="25.75" y="614.34" text-anchor="end" class="tl">8</text>
<text x="25.75" y="581.4" text-anchor="end" class="tl">10</text>
<text x="185.3" y="779" text-anchor="middle" class="xl" textLength="42.6" lengthAdjust="spacingAndGlyphs">time (days)</text>
<text transform="translate(9 659.15) rotate(-90)" text-anchor="middle" class="yl" textLength="88.5" lengthAdjust="spacingAndGlyphs">No. of recovered&#160;&#160;people</text>
<line x1="269.7" y1="632" x2="286.3" y2="632" stroke="#f02828" stroke-width="1.8"/>
<text x="292.9" y="635.6" class="lg" textLength="39.7" lengthAdjust="spacingAndGlyphs">R(0)=04</text>
<line x1="269.7" y1="659.5" x2="286.3" y2="659.5" stroke="#ff22ff" stroke-width="1.8"/>
<text x="292.9" y="663.1" class="lg" textLength="39.7" lengthAdjust="spacingAndGlyphs">R(0)=10</text>
<line x1="269.7" y1="687" x2="286.3" y2="687" stroke="#2e2eef" stroke-width="1.8"/>
<text x="292.9" y="690.6" class="lg" textLength="34.5" lengthAdjust="spacingAndGlyphs">R(0)=0</text>
<text x="94.9" y="802.8" class="cap" textLength="153.4" lengthAdjust="spacingAndGlyphs">(e) Recovered population</text>
<clipPath id="cf"><rect x="376.6" y="568.4" width="306.9" height="182.9"/></clipPath>
<line x1="382.6" y1="568.4" x2="382.6" y2="751.3" stroke="#d4d4d4" stroke-width="1"/>
<path d="M382.6 751.3v-4.5 M382.6 568.4v4.5 M396.66 751.3v-2.6 M396.66 568.4v2.6 M410.71 751.3v-2.6 M410.71 568.4v2.6 M424.77 751.3v-2.6 M424.77 568.4v2.6 M438.82 751.3v-2.6 M438.82 568.4v2.6 M452.88 751.3v-4.5 M452.88 568.4v4.5 M466.93 751.3v-2.6 M466.93 568.4v2.6 M480.99 751.3v-2.6 M480.99 568.4v2.6 M495.04 751.3v-2.6 M495.04 568.4v2.6 M509.1 751.3v-2.6 M509.1 568.4v2.6 M523.15 751.3v-4.5 M523.15 568.4v4.5 M537.21 751.3v-2.6 M537.21 568.4v2.6 M551.26 751.3v-2.6 M551.26 568.4v2.6 M565.32 751.3v-2.6 M565.32 568.4v2.6 M579.37 751.3v-2.6 M579.37 568.4v2.6 M593.42 751.3v-4.5 M593.42 568.4v4.5 M607.48 751.3v-2.6 M607.48 568.4v2.6 M621.54 751.3v-2.6 M621.54 568.4v2.6 M635.59 751.3v-2.6 M635.59 568.4v2.6 M649.64 751.3v-2.6 M649.64 568.4v2.6 M663.7 751.3v-4.5 M663.7 568.4v4.5 M677.76 751.3v-2.6 M677.76 568.4v2.6 M376.6 748.76h2.6 M683.5 748.76h-2.6 M376.6 742.64h2.6 M683.5 742.64h-2.6 M376.6 736.52h2.6 M683.5 736.52h-2.6 M376.6 730.4h4.5 M683.5 730.4h-4.5 M376.6 724.28h2.6 M683.5 724.28h-2.6 M376.6 718.16h2.6 M683.5 718.16h-2.6 M376.6 712.04h2.6 M683.5 712.04h-2.6 M376.6 705.92h2.6 M683.5 705.92h-2.6 M376.6 699.8h4.5 M683.5 699.8h-4.5 M376.6 693.68h2.6 M683.5 693.68h-2.6 M376.6 687.56h2.6 M683.5 687.56h-2.6 M376.6 681.44h2.6 M683.5 681.44h-2.6 M376.6 675.32h2.6 M683.5 675.32h-2.6 M376.6 669.2h4.5 M683.5 669.2h-4.5 M376.6 663.08h2.6 M683.5 663.08h-2.6 M376.6 656.96h2.6 M683.5 656.96h-2.6 M376.6 650.84h2.6 M683.5 650.84h-2.6 M376.6 644.72h2.6 M683.5 644.72h-2.6 M376.6 638.6h4.5 M683.5 638.6h-4.5 M376.6 632.48h2.6 M683.5 632.48h-2.6 M376.6 626.36h2.6 M683.5 626.36h-2.6 M376.6 620.24h2.6 M683.5 620.24h-2.6 M376.6 614.12h2.6 M683.5 614.12h-2.6 M376.6 608h4.5 M683.5 608h-4.5 M376.6 601.88h2.6 M683.5 601.88h-2.6 M376.6 595.76h2.6 M683.5 595.76h-2.6 M376.6 589.64h2.6 M683.5 589.64h-2.6 M376.6 583.52h2.6 M683.5 583.52h-2.6 M376.6 577.4h4.5 M683.5 577.4h-4.5 M376.6 571.28h2.6 M683.5 571.28h-2.6" stroke="#5e5e5e" stroke-width="1" fill="none"/>
<g clip-path="url(#cf)" fill="none" stroke-width="1.9" stroke-linejoin="round" stroke-linecap="butt">
<path d="M382.70 577.40 L382.82 581.90 L382.93 584.80 L383.05 586.82 L383.17 588.44 L383.29 589.90 L383.40 591.38 L383.52 592.97 L383.64 594.72 L383.75 596.63 L383.87 598.72 L383.99 600.98 L384.11 603.39 L384.22 605.94 L384.34 608.60 L384.46 611.36 L384.58 614.19 L384.69 617.09 L384.81 620.03 L384.93 623.00 L385.04 626.00 L385.16 628.99 L385.28 631.98 L385.40 634.96 L385.51 637.92 L385.63 640.85 L385.75 643.74 L385.86 646.60 L385.98 649.41 L386.10 652.17 L386.22 654.88 L386.33 657.54 L386.45 660.14 L386.57 662.69 L386.68 665.17 L386.80 667.60 L386.92 669.97 L387.04 672.28 L387.15 674.54 L387.27 676.73 L387.39 678.86 L387.51 680.94 L387.62 682.95 L387.74 684.91 L387.86 686.82 L387.97 688.67 L388.09 690.46 L388.21 692.20 L388.33 693.89 L388.44 695.53 L388.56 697.12 L388.68 698.66 L388.79 700.15 L388.91 701.60 L389.03 703.00 L389.15 704.36 L389.26 705.67 L389.38 706.94 L389.50 708.17 L389.61 709.37 L389.73 710.52 L389.85 711.64 L389.97 712.72 L390.08 713.76 L390.20 714.77 L390.32 715.75 L390.43 716.70 L390.55 717.61 L390.67 718.49 L390.79 719.35 L390.90 720.18 L391.02 720.97 L391.14 721.75 L391.26 722.49 L391.37 723.22 L391.49 723.91 L391.61 724.59 L391.72 725.24 L391.84 725.87 L391.96 726.48 L392.08 727.06 L392.19 727.63 L392.31 728.18 L392.43 728.71 L392.54 729.22 L392.66 729.71 L392.78 730.19 L392.90 730.65 L393.01 731.10 L393.13 731.53 L393.25 731.94 L393.36 732.34 L393.48 732.73 L393.60 733.10 L393.72 733.46 L393.83 733.81 L393.95 734.14 L394.07 734.47 L394.19 734.78 L394.30 735.08 L394.42 735.37 L394.54 735.65 L394.65 735.92 L394.77 736.18 L394.89 736.43 L395.01 736.68 L395.12 736.91 L395.24 737.13 L395.36 737.35 L395.47 737.56 L395.59 737.76 L395.71 737.96 L395.83 738.14 L395.94 738.32 L396.06 738.50 L396.18 738.67 L396.29 738.83 L396.41 738.98 L396.53 739.13 L396.65 739.27 L396.76 739.41 L396.88 739.55 L397.00 739.67 L397.12 739.80 L397.23 739.91 L397.35 740.03 L397.47 740.14 L397.58 740.24 L397.70 740.34 L397.82 740.44 L397.94 740.53 L398.05 740.62 L398.17 740.71 L398.29 740.79 L398.40 740.87 L398.52 740.95 L398.64 741.02 L398.76 741.09 L398.87 741.15 L398.99 741.22 L399.11 741.28 L399.22 741.34 L399.34 741.39 L399.46 741.45 L399.58 741.50 L399.69 741.54 L399.81 741.59 L399.93 741.63 L400.05 741.68 L400.16 741.72 L400.28 741.76 L400.40 741.79 L400.51 741.83 L400.63 741.86 L400.75 741.89 L400.87 741.92 L400.98 741.95 L401.10 741.97 L401.22 742.00 L401.33 742.02 L401.45 742.04 L401.57 742.06 L401.69 742.08 L401.80 742.10 L401.92 742.12 L402.04 742.14 L402.15 742.15 L402.27 742.16 L402.39 742.18 L402.51 742.19 L402.62 742.20 L402.74 742.21 L402.86 742.22 L402.98 742.23 L403.09 742.24 L403.21 742.24 L403.33 742.25 L403.44 742.25 L403.56 742.26 L403.68 742.26 L403.80 742.27 L403.91 742.27 L404.03 742.27 L404.15 742.27 L404.26 742.27 L404.38 742.27 L404.50 742.27 L404.62 742.27 L404.73 742.27 L404.85 742.27 L404.97 742.27 L405.08 742.26 L405.20 742.26 L405.32 742.26 L405.44 742.25 L405.55 742.25 L405.67 742.25 L405.79 742.24 L405.90 742.24 L406.02 742.23 L406.14 742.23 L406.26 742.22 L406.37 742.21 L406.49 742.21 L406.61 742.20 L406.73 742.19 L406.84 742.19 L406.96 742.18 L407.08 742.17 L407.19 742.16 L407.31 742.16 L407.43 742.15 L407.55 742.14 L407.66 742.13 L407.78 742.12 L407.90 742.12 L408.01 742.11 L408.13 742.10 L408.25 742.09 L408.37 742.08 L408.48 742.07 L408.60 742.06 L408.72 742.05 L408.83 742.04 L408.95 742.03 L409.07 742.02 L409.19 742.01 L409.30 742.00 L409.42 741.99 L409.54 741.98 L409.66 741.97 L409.77 741.96 L409.89 741.95 L410.01 741.94 L410.12 741.93 L410.24 741.92 L410.36 741.91 L410.48 741.90 L410.59 741.89 L410.71 741.88 L412.95 741.68 L415.20 741.49 L417.44 741.31 L419.69 741.14 L421.93 740.98 L424.18 740.83 L426.42 740.69 L428.67 740.55 L430.91 740.42 L433.15 740.30 L435.40 740.18 L437.64 740.06 L439.89 739.95 L442.13 739.84 L444.38 739.74 L446.62 739.64 L448.87 739.54 L451.11 739.45 L453.35 739.36 L455.60 739.28 L457.84 739.20 L460.09 739.12 L462.33 739.05 L464.58 738.98 L466.82 738.91 L469.07 738.85 L471.31 738.79 L473.55 738.74 L475.80 738.69 L478.04 738.64 L480.29 738.59 L482.53 738.55 L484.78 738.51 L487.02 738.48 L489.27 738.45 L491.51 738.42 L493.75 738.39 L496.00 738.36 L498.24 738.34 L500.49 738.32 L502.73 738.30 L504.98 738.28 L507.22 738.26 L509.47 738.25 L511.71 738.24 L513.95 738.22 L516.20 738.21 L518.44 738.21 L520.69 738.20 L522.93 738.19 L525.18 738.19 L527.42 738.18 L529.67 738.18 L531.91 738.17 L534.15 738.17 L536.40 738.17 L538.64 738.17 L540.89 738.16 L543.13 738.16 L545.38 738.16 L547.62 738.16 L549.87 738.16 L552.11 738.17 L554.36 738.17 L556.60 738.17 L558.84 738.17 L561.09 738.17 L563.33 738.17 L565.58 738.17 L567.82 738.18 L570.07 738.18 L572.31 738.18 L574.56 738.18 L576.80 738.18 L579.04 738.19 L581.29 738.19 L583.53 738.19 L585.78 738.19 L588.02 738.19 L590.27 738.20 L592.51 738.20 L594.76 738.20 L597.00 738.20 L599.24 738.20 L601.49 738.21 L603.73 738.21 L605.98 738.21 L608.22 738.21 L610.47 738.21 L612.71 738.21 L614.96 738.21 L617.20 738.22 L619.44 738.22 L621.69 738.22 L623.93 738.22 L626.18 738.22 L628.42 738.22 L630.67 738.22 L632.91 738.22 L635.16 738.22 L637.40 738.22 L639.64 738.22 L641.89 738.22 L644.13 738.22 L646.38 738.22 L648.62 738.22 L650.87 738.22 L653.11 738.22 L655.36 738.22 L657.60 738.22 L659.84 738.22 L662.09 738.22 L664.33 738.22 L666.58 738.22 L668.82 738.21 L671.07 738.21 L673.31 738.21 L675.56 738.21 L677.80 738.21" stroke="#f02828"/>
<path d="M382.70 638.60 L382.82 639.66 L382.93 640.85 L383.05 642.17 L383.17 643.59 L383.29 645.11 L383.40 646.70 L383.52 648.36 L383.64 650.08 L383.75 651.84 L383.87 653.64 L383.99 655.47 L384.11 657.32 L384.22 659.19 L384.34 661.07 L384.46 662.95 L384.58 664.83 L384.69 666.70 L384.81 668.56 L384.93 670.42 L385.04 672.25 L385.16 674.07 L385.28 675.86 L385.40 677.63 L385.51 679.38 L385.63 681.10 L385.75 682.78 L385.86 684.44 L385.98 686.07 L386.10 687.67 L386.22 689.23 L386.33 690.76 L386.45 692.26 L386.57 693.73 L386.68 695.16 L386.80 696.55 L386.92 697.91 L387.04 699.24 L387.15 700.54 L387.27 701.80 L387.39 703.03 L387.51 704.22 L387.62 705.38 L387.74 706.51 L387.86 707.61 L387.97 708.68 L388.09 709.72 L388.21 710.72 L388.33 711.70 L388.44 712.65 L388.56 713.57 L388.68 714.46 L388.79 715.32 L388.91 716.16 L389.03 716.97 L389.15 717.76 L389.26 718.52 L389.38 719.26 L389.50 719.97 L389.61 720.66 L389.73 721.33 L389.85 721.98 L389.97 722.60 L390.08 723.21 L390.20 723.79 L390.32 724.35 L390.43 724.90 L390.55 725.43 L390.67 725.94 L390.79 726.43 L390.90 726.90 L391.02 727.36 L391.14 727.80 L391.26 728.23 L391.37 728.64 L391.49 729.04 L391.61 729.42 L391.72 729.79 L391.84 730.14 L391.96 730.49 L392.08 730.82 L392.19 731.13 L392.31 731.44 L392.43 731.74 L392.54 732.02 L392.66 732.30 L392.78 732.56 L392.90 732.81 L393.01 733.06 L393.13 733.29 L393.25 733.52 L393.36 733.73 L393.48 733.94 L393.60 734.14 L393.72 734.34 L393.83 734.52 L393.95 734.70 L394.07 734.87 L394.19 735.04 L394.30 735.19 L394.42 735.35 L394.54 735.49 L394.65 735.63 L394.77 735.76 L394.89 735.89 L395.01 736.02 L395.12 736.13 L395.24 736.25 L395.36 736.35 L395.47 736.46 L395.59 736.56 L395.71 736.65 L395.83 736.74 L395.94 736.83 L396.06 736.91 L396.18 736.99 L396.29 737.07 L396.41 737.14 L396.53 737.21 L396.65 737.27 L396.76 737.34 L396.88 737.40 L397.00 737.45 L397.12 737.51 L397.23 737.56 L397.35 737.61 L397.47 737.66 L397.58 737.70 L397.70 737.74 L397.82 737.78 L397.94 737.82 L398.05 737.86 L398.17 737.89 L398.29 737.92 L398.40 737.95 L398.52 737.98 L398.64 738.01 L398.76 738.03 L398.87 738.06 L398.99 738.08 L399.11 738.10 L399.22 738.12 L399.34 738.14 L399.46 738.16 L399.58 738.18 L399.69 738.19 L399.81 738.21 L399.93 738.22 L400.05 738.23 L400.16 738.24 L400.28 738.25 L400.40 738.26 L400.51 738.27 L400.63 738.28 L400.75 738.29 L400.87 738.30 L400.98 738.30 L401.10 738.31 L401.22 738.31 L401.33 738.32 L401.45 738.32 L401.57 738.32 L401.69 738.33 L401.80 738.33 L401.92 738.33 L402.04 738.33 L402.15 738.33 L402.27 738.33 L402.39 738.33 L402.51 738.33 L402.62 738.33 L402.74 738.33 L402.86 738.33 L402.98 738.33 L403.09 738.33 L403.21 738.33 L403.33 738.33 L403.44 738.32 L403.56 738.32 L403.68 738.32 L403.80 738.32 L403.91 738.31 L404.03 738.31 L404.15 738.31 L404.26 738.30 L404.38 738.30 L404.50 738.30 L404.62 738.29 L404.73 738.29 L404.85 738.29 L404.97 738.28 L405.08 738.28 L405.20 738.28 L405.32 738.27 L405.44 738.27 L405.55 738.26 L405.67 738.26 L405.79 738.26 L405.90 738.25 L406.02 738.25 L406.14 738.24 L406.26 738.24 L406.37 738.24 L406.49 738.23 L406.61 738.23 L406.73 738.23 L406.84 738.22 L406.96 738.22 L407.08 738.21 L407.19 738.21 L407.31 738.21 L407.43 738.20 L407.55 738.20 L407.66 738.20 L407.78 738.19 L407.90 738.19 L408.01 738.19 L408.13 738.18 L408.25 738.18 L408.37 738.18 L408.48 738.17 L408.60 738.17 L408.72 738.17 L408.83 738.16 L408.95 738.16 L409.07 738.16 L409.19 738.16 L409.30 738.15 L409.42 738.15 L409.54 738.15 L409.66 738.14 L409.77 738.14 L409.89 738.14 L410.01 738.14 L410.12 738.14 L410.24 738.13 L410.36 738.13 L410.48 738.13 L410.59 738.13 L410.71 738.13 L412.95 738.10 L415.20 738.10 L417.44 738.12 L419.69 738.15 L421.93 738.18 L424.18 738.22 L426.42 738.26 L428.67 738.29 L430.91 738.32 L433.15 738.35 L435.40 738.37 L437.64 738.38 L439.89 738.40 L442.13 738.40 L444.38 738.41 L446.62 738.41 L448.87 738.40 L451.11 738.40 L453.35 738.39 L455.60 738.38 L457.84 738.37 L460.09 738.36 L462.33 738.34 L464.58 738.33 L466.82 738.32 L469.07 738.30 L471.31 738.29 L473.55 738.28 L475.80 738.27 L478.04 738.25 L480.29 738.24 L482.53 738.23 L484.78 738.22 L487.02 738.21 L489.27 738.20 L491.51 738.20 L493.75 738.19 L496.00 738.18 L498.24 738.18 L500.49 738.17 L502.73 738.17 L504.98 738.16 L507.22 738.16 L509.47 738.16 L511.71 738.15 L513.95 738.15 L516.20 738.15 L518.44 738.15 L520.69 738.15 L522.93 738.15 L525.18 738.15 L527.42 738.15 L529.67 738.15 L531.91 738.15 L534.15 738.15 L536.40 738.15 L538.64 738.16 L540.89 738.16 L543.13 738.16 L545.38 738.16 L547.62 738.16 L549.87 738.16 L552.11 738.17 L554.36 738.17 L556.60 738.17 L558.84 738.17 L561.09 738.18 L563.33 738.18 L565.58 738.18 L567.82 738.18 L570.07 738.19 L572.31 738.19 L574.56 738.19 L576.80 738.19 L579.04 738.19 L581.29 738.20 L583.53 738.20 L585.78 738.20 L588.02 738.20 L590.27 738.20 L592.51 738.20 L594.76 738.21 L597.00 738.21 L599.24 738.21 L601.49 738.21 L603.73 738.21 L605.98 738.21 L608.22 738.21 L610.47 738.21 L612.71 738.22 L614.96 738.22 L617.20 738.22 L619.44 738.22 L621.69 738.22 L623.93 738.22 L626.18 738.22 L628.42 738.22 L630.67 738.22 L632.91 738.22 L635.16 738.22 L637.40 738.22 L639.64 738.22 L641.89 738.22 L644.13 738.22 L646.38 738.22 L648.62 738.22 L650.87 738.22 L653.11 738.22 L655.36 738.22 L657.60 738.22 L659.84 738.22 L662.09 738.21 L664.33 738.21 L666.58 738.21 L668.82 738.21 L671.07 738.21 L673.31 738.21 L675.56 738.21 L677.80 738.21" stroke="#ff22ff"/>
<path d="M382.70 699.80 L382.82 700.84 L382.93 702.31 L383.05 703.89 L383.17 705.44 L383.29 706.90 L383.40 708.25 L383.52 709.52 L383.64 710.70 L383.75 711.81 L383.87 712.85 L383.99 713.84 L384.11 714.78 L384.22 715.68 L384.34 716.54 L384.46 717.37 L384.58 718.17 L384.69 718.93 L384.81 719.67 L384.93 720.38 L385.04 721.07 L385.16 721.73 L385.28 722.37 L385.40 722.99 L385.51 723.58 L385.63 724.15 L385.75 724.70 L385.86 725.23 L385.98 725.74 L386.10 726.24 L386.22 726.71 L386.33 727.17 L386.45 727.61 L386.57 728.03 L386.68 728.43 L386.80 728.82 L386.92 729.20 L387.04 729.56 L387.15 729.91 L387.27 730.24 L387.39 730.56 L387.51 730.87 L387.62 731.16 L387.74 731.45 L387.86 731.72 L387.97 731.98 L388.09 732.23 L388.21 732.47 L388.33 732.70 L388.44 732.92 L388.56 733.14 L388.68 733.34 L388.79 733.54 L388.91 733.73 L389.03 733.91 L389.15 734.08 L389.26 734.25 L389.38 734.40 L389.50 734.56 L389.61 734.70 L389.73 734.84 L389.85 734.98 L389.97 735.11 L390.08 735.23 L390.20 735.35 L390.32 735.47 L390.43 735.58 L390.55 735.68 L390.67 735.78 L390.79 735.88 L390.90 735.97 L391.02 736.06 L391.14 736.14 L391.26 736.23 L391.37 736.30 L391.49 736.38 L391.61 736.45 L391.72 736.52 L391.84 736.59 L391.96 736.65 L392.08 736.71 L392.19 736.77 L392.31 736.83 L392.43 736.88 L392.54 736.93 L392.66 736.98 L392.78 737.03 L392.90 737.07 L393.01 737.11 L393.13 737.16 L393.25 737.20 L393.36 737.23 L393.48 737.27 L393.60 737.31 L393.72 737.34 L393.83 737.37 L393.95 737.40 L394.07 737.43 L394.19 737.46 L394.30 737.49 L394.42 737.51 L394.54 737.54 L394.65 737.56 L394.77 737.58 L394.89 737.61 L395.01 737.63 L395.12 737.65 L395.24 737.67 L395.36 737.69 L395.47 737.70 L395.59 737.72 L395.71 737.74 L395.83 737.75 L395.94 737.77 L396.06 737.78 L396.18 737.79 L396.29 737.81 L396.41 737.82 L396.53 737.83 L396.65 737.84 L396.76 737.85 L396.88 737.86 L397.00 737.87 L397.12 737.88 L397.23 737.89 L397.35 737.90 L397.47 737.91 L397.58 737.92 L397.70 737.93 L397.82 737.93 L397.94 737.94 L398.05 737.95 L398.17 737.95 L398.29 737.96 L398.40 737.97 L398.52 737.97 L398.64 737.98 L398.76 737.98 L398.87 737.99 L398.99 737.99 L399.11 738.00 L399.22 738.00 L399.34 738.00 L399.46 738.01 L399.58 738.01 L399.69 738.02 L399.81 738.02 L399.93 738.02 L400.05 738.03 L400.16 738.03 L400.28 738.03 L400.40 738.03 L400.51 738.04 L400.63 738.04 L400.75 738.04 L400.87 738.04 L400.98 738.05 L401.10 738.05 L401.22 738.05 L401.33 738.05 L401.45 738.05 L401.57 738.06 L401.69 738.06 L401.80 738.06 L401.92 738.06 L402.04 738.06 L402.15 738.06 L402.27 738.07 L402.39 738.07 L402.51 738.07 L402.62 738.07 L402.74 738.07 L402.86 738.07 L402.98 738.07 L403.09 738.07 L403.21 738.08 L403.33 738.08 L403.44 738.08 L403.56 738.08 L403.68 738.08 L403.80 738.08 L403.91 738.08 L404.03 738.08 L404.15 738.08 L404.26 738.08 L404.38 738.08 L404.50 738.09 L404.62 738.09 L404.73 738.09 L404.85 738.09 L404.97 738.09 L405.08 738.09 L405.20 738.09 L405.32 738.09 L405.44 738.09 L405.55 738.09 L405.67 738.09 L405.79 738.09 L405.90 738.09 L406.02 738.09 L406.14 738.10 L406.26 738.10 L406.37 738.10 L406.49 738.10 L406.61 738.10 L406.73 738.10 L406.84 738.10 L406.96 738.10 L407.08 738.10 L407.19 738.10 L407.31 738.10 L407.43 738.10 L407.55 738.10 L407.66 738.10 L407.78 738.10 L407.90 738.10 L408.01 738.10 L408.13 738.10 L408.25 738.11 L408.37 738.11 L408.48 738.11 L408.60 738.11 L408.72 738.11 L408.83 738.11 L408.95 738.11 L409.07 738.11 L409.19 738.11 L409.30 738.11 L409.42 738.11 L409.54 738.11 L409.66 738.11 L409.77 738.11 L409.89 738.11 L410.01 738.11 L410.12 738.11 L410.24 738.12 L410.36 738.12 L410.48 738.12 L410.59 738.12 L410.71 738.12 L412.95 738.13 L415.20 738.14 L417.44 738.15 L419.69 738.16 L421.93 738.17 L424.18 738.18 L426.42 738.19 L428.67 738.20 L430.91 738.20 L433.15 738.21 L435.40 738.21 L437.64 738.21 L439.89 738.22 L442.13 738.22 L444.38 738.22 L446.62 738.22 L448.87 738.22 L451.11 738.22 L453.35 738.22 L455.60 738.22 L457.84 738.21 L460.09 738.21 L462.33 738.21 L464.58 738.21 L466.82 738.21 L469.07 738.21 L471.31 738.21 L473.55 738.21 L475.80 738.20 L478.04 738.20 L480.29 738.20 L482.53 738.20 L484.78 738.20 L487.02 738.20 L489.27 738.20 L491.51 738.20 L493.75 738.20 L496.00 738.20 L498.24 738.20 L500.49 738.20 L502.73 738.20 L504.98 738.20 L507.22 738.20 L509.47 738.20 L511.71 738.20 L513.95 738.20 L516.20 738.20 L518.44 738.20 L520.69 738.20 L522.93 738.20 L525.18 738.20 L527.42 738.20 L529.67 738.20 L531.91 738.20 L534.15 738.20 L536.40 738.20 L538.64 738.20 L540.89 738.20 L543.13 738.20 L545.38 738.20 L547.62 738.20 L549.87 738.20 L552.11 738.20 L554.36 738.20 L556.60 738.20 L558.84 738.20 L561.09 738.20 L563.33 738.20 L565.58 738.20 L567.82 738.20 L570.07 738.20 L572.31 738.20 L574.56 738.20 L576.80 738.20 L579.04 738.20 L581.29 738.20 L583.53 738.20 L585.78 738.20 L588.02 738.20 L590.27 738.20 L592.51 738.20 L594.76 738.20 L597.00 738.20 L599.24 738.20 L601.49 738.20 L603.73 738.20 L605.98 738.20 L608.22 738.20 L610.47 738.20 L612.71 738.20 L614.96 738.20 L617.20 738.20 L619.44 738.20 L621.69 738.20 L623.93 738.20 L626.18 738.20 L628.42 738.20 L630.67 738.20 L632.91 738.20 L635.16 738.20 L637.40 738.20 L639.64 738.20 L641.89 738.20 L644.13 738.20 L646.38 738.20 L648.62 738.20 L650.87 738.20 L653.11 738.20 L655.36 738.20 L657.60 738.20 L659.84 738.20 L662.09 738.20 L664.33 738.20 L666.58 738.20 L668.82 738.20 L671.07 738.20 L673.31 738.20 L675.56 738.20 L677.80 738.20" stroke="#2e2eef"/>
</g>
<rect x="376.6" y="568.4" width="306.9" height="182.9" fill="none" stroke="#939393" stroke-width="1.3"/>
<text x="381.9" y="762.3" text-anchor="middle" class="tl">0</text>
<text x="452.18" y="762.3" text-anchor="middle" class="tl">50</text>
<text x="522.45" y="762.3" text-anchor="middle" class="tl">100</text>
<text x="592.72" y="762.3" text-anchor="middle" class="tl">150</text>
<text x="663" y="762.3" text-anchor="middle" class="tl">200</text>
<text x="374.05" y="733.4" text-anchor="end" class="tl">50</text>
<text x="374.05" y="702.8" text-anchor="end" class="tl">100</text>
<text x="374.05" y="672.2" text-anchor="end" class="tl">150</text>
<text x="374.05" y="641.6" text-anchor="end" class="tl">200</text>
<text x="374.05" y="611" text-anchor="end" class="tl">250</text>
<text x="374.05" y="580.4" text-anchor="end" class="tl">300</text>
<text x="530.05" y="778.6" text-anchor="middle" class="xl" textLength="42.6" lengthAdjust="spacingAndGlyphs">time (days)</text>
<text transform="translate(352 659.35) rotate(-90)" text-anchor="middle" class="yl" textLength="93.5" lengthAdjust="spacingAndGlyphs">No. of vaccinated&#160;&#160;people</text>
<line x1="414.2" y1="582.3" x2="430.5" y2="582.3" stroke="#f02828" stroke-width="1.8"/>
<text x="437.7" y="585.9" class="lg" textLength="45" lengthAdjust="spacingAndGlyphs">V(0)=300</text>
<line x1="496" y1="582.3" x2="512.3" y2="582.3" stroke="#ff22ff" stroke-width="1.8"/>
<text x="520.1" y="585.9" class="lg" textLength="44.9" lengthAdjust="spacingAndGlyphs">V(0)=200</text>
<line x1="578.4" y1="582.3" x2="594.7" y2="582.3" stroke="#2e2eef" stroke-width="1.8"/>
<text x="601.9" y="585.9" class="lg" textLength="44.9" lengthAdjust="spacingAndGlyphs">V(0)=100</text>
<text x="434.6" y="802.8" class="cap" textLength="158.1" lengthAdjust="spacingAndGlyphs">(f) Vaccinated population</text>
</svg>
</body></html>
